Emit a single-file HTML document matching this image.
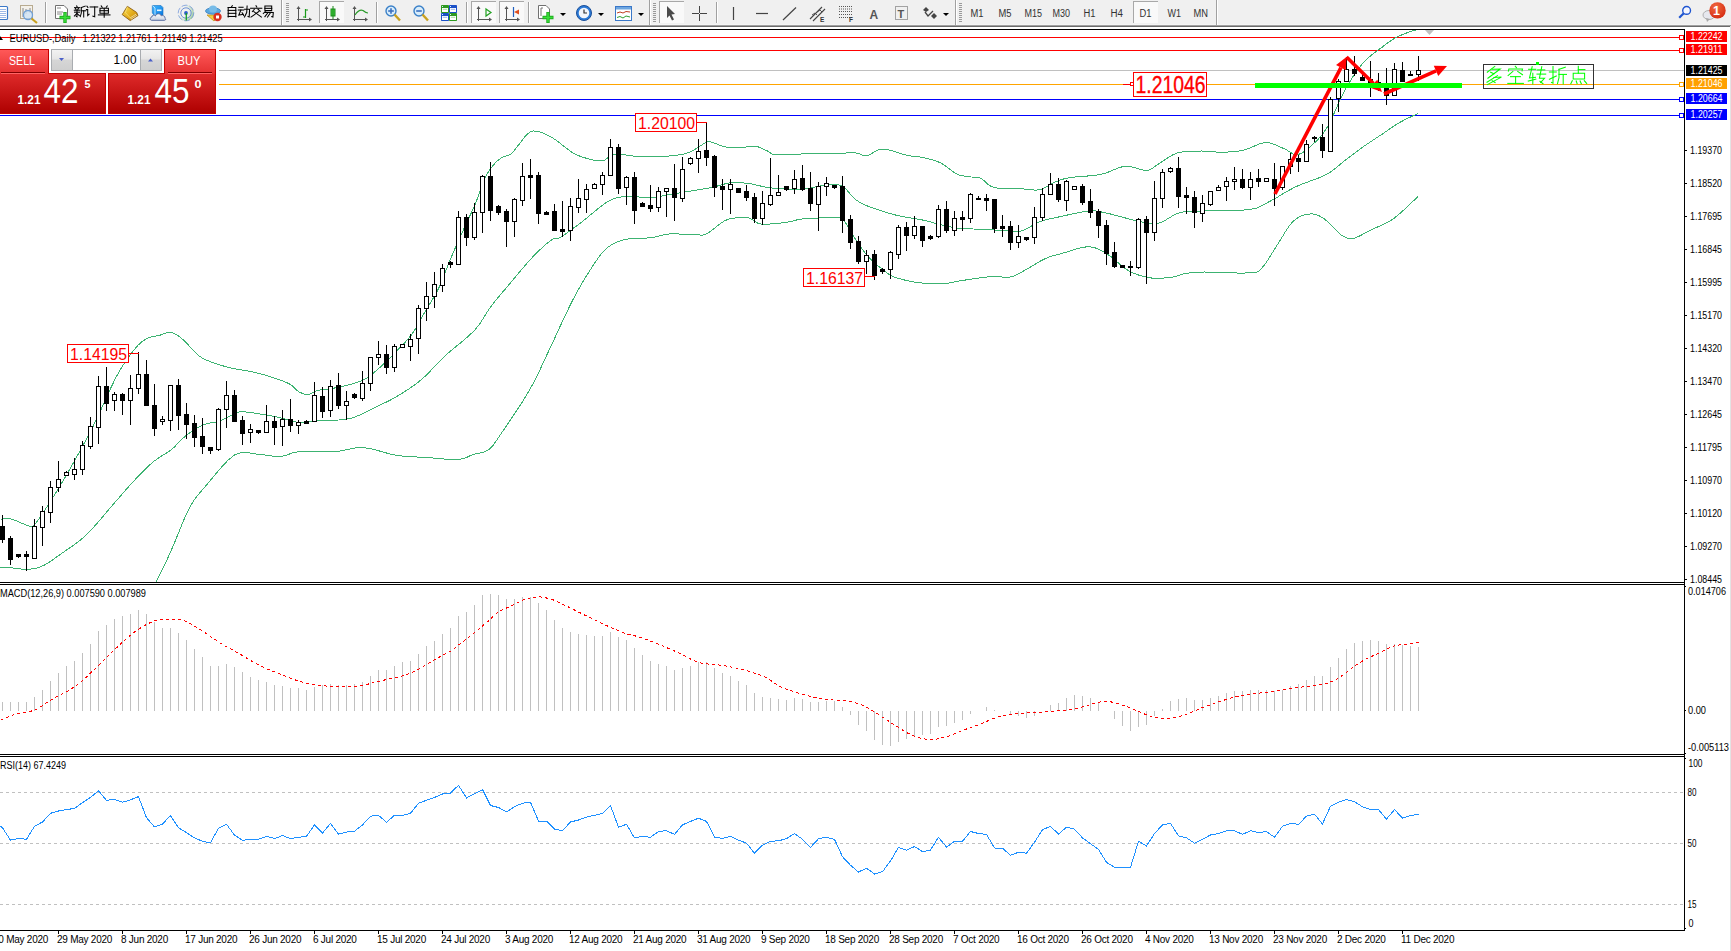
<!DOCTYPE html><html><head><meta charset="utf-8"><title>EURUSD Daily</title><style>html,body{margin:0;padding:0;background:#fff;overflow:hidden}body{width:1731px;height:951px;position:relative}svg{position:absolute;left:0;top:0;font-family:"Liberation Sans",sans-serif}</style></head><body>
<svg width="1731" height="951" viewBox="0 0 1731 951">
<g id="toolbar">
<rect x="0" y="0" width="1731" height="25" fill="#f0f0f0" shape-rendering="crispEdges"/>
<rect x="0" y="24" width="1731" height="1" fill="#f4f4f4" shape-rendering="crispEdges"/>
<rect x="0" y="25" width="1731" height="1" fill="#a0a0a0" shape-rendering="crispEdges"/>
<rect x="0" y="26" width="1731" height="1" fill="#6b6b6b" shape-rendering="crispEdges"/>
<rect x="-3.5" y="6.5" width="11" height="13" fill="#fff" stroke="#3a78c8" stroke-width="1.2" rx="1"/>
<rect x="0" y="9" width="6" height="1" fill="#9bb8e6" shape-rendering="crispEdges"/>
<rect x="0" y="11" width="6" height="1" fill="#9bb8e6" shape-rendering="crispEdges"/>
<rect x="0" y="13" width="6" height="1" fill="#9bb8e6" shape-rendering="crispEdges"/>
<rect x="0" y="15" width="6" height="1" fill="#9bb8e6" shape-rendering="crispEdges"/>
<rect x="0" y="17" width="6" height="1" fill="#9bb8e6" shape-rendering="crispEdges"/>
<rect x="20.5" y="5.5" width="12" height="13" fill="#f4f1ea" stroke="#b8ab90" stroke-width="1"/>
<path d="M23,8 V17 M26,9 V14 M30,8 V13" stroke="#888" stroke-width="1"/>
<circle cx="28" cy="15" r="4.5" fill="#cfe3f5" fill-opacity="0.8" stroke="#6f9fd6" stroke-width="1.3"/>
<path d="M31.5,18.5 L37,23" stroke="#c8a020" stroke-width="2.2"/>
<rect x="45" y="2" width="1" height="21" fill="#a0a0a0" shape-rendering="crispEdges"/>
<rect x="46" y="2" width="1" height="21" fill="#ffffff" shape-rendering="crispEdges"/>
<path d="M55.5,5.5 H64 L67.5,9 V18.5 H55.5 Z" fill="#fff" stroke="#707070" stroke-width="1"/>
<path d="M57,8 H61 M57,12 H63 M57,14 H62" stroke="#888" stroke-width="1"/>
<path d="M65,12 V23 M59.5,17.5 H70.5" stroke="#1faa1f" stroke-width="3.4"/>
<path d="M65,12.8 V22.2 M60.3,17.5 H69.7" stroke="#38e038" stroke-width="1.6"/>
<defs><linearGradient id="gbook" x1="0" y1="0" x2="1" y2="1"><stop offset="0" stop-color="#f8dc50"/><stop offset="0.6" stop-color="#e0a818"/><stop offset="1" stop-color="#b87810"/></linearGradient><linearGradient id="gcube" x1="0" y1="0" x2="1" y2="1"><stop offset="0" stop-color="#40b8ff"/><stop offset="1" stop-color="#0a78e0"/></linearGradient><linearGradient id="gcloud" x1="0" y1="0" x2="0" y2="1"><stop offset="0" stop-color="#ffffff"/><stop offset="1" stop-color="#c8d0e0"/></linearGradient><radialGradient id="gsig" cx="0.3" cy="0.4" r="0.8"><stop offset="0.3" stop-color="#ffffff" stop-opacity="0"/><stop offset="1" stop-color="#40a040" stop-opacity="0.75"/></radialGradient></defs>
<polygon points="127.3,6.3 136.6,12.4 138,15.6 130.2,20.6 122.2,14.6 123.5,12.5" fill="url(#gbook)" stroke="#8a5a10" stroke-width="0.9" stroke-linejoin="round"/>
<path d="M131,19.2 L137.2,15.2 M130.3,17.8 L136,14.2" stroke="#f4e4b0" stroke-width="0.8"/>
<path d="M127.3,6.6 L125.4,12.6 L131,18.6" stroke="#fff2a0" stroke-width="0.8" fill="none" opacity="0.7"/>
<polygon points="152.3,5.5 161,5.5 163,7.5 163,15 154,15 152.3,13" fill="url(#gcube)" stroke="#1a70c0" stroke-width="0.6"/>
<path d="M152.5,5.6 L155,8 V15" stroke="#d0ecff" stroke-width="0.9" fill="none"/>
<rect x="157" y="9.5" width="4.5" height="1.6" fill="#e8f6ff"/>
<path d="M151.6,20.3 C149.8,20.3 149.6,17.4 151.8,17 C151.8,15 154.6,14.6 155.4,16 C156.2,13.2 160.4,13 161.2,15.8 C163,15 165.6,16.4 164.8,18.2 C166.2,18.8 165.8,20.3 164.4,20.3 Z" fill="url(#gcloud)" stroke="#4a6098" stroke-width="0.9"/>
<circle cx="186" cy="13" r="7.8" fill="url(#gsig)"/>
<circle cx="186" cy="13" r="7.8" fill="none" stroke="#6890d8" stroke-width="0.9" stroke-dasharray="6,2" opacity="0.8"/>
<circle cx="186" cy="13" r="5.2" fill="none" stroke="#5a84d4" stroke-width="1" opacity="0.85"/>
<circle cx="186" cy="13" r="1.9" fill="#2a5ccc"/>
<path d="M186.3,13 V20.6" stroke="#18a028" stroke-width="1.3" fill="none"/>
<polygon points="207,15 220,15 214,21" fill="#f0d040" stroke="#c09020" stroke-width="0.8"/>
<ellipse cx="213" cy="11" rx="7.5" ry="3.2" fill="#5aa8e0" stroke="#3a80c0" stroke-width="0.8"/>
<ellipse cx="213" cy="9" rx="4" ry="3.5" fill="#78bce8"/>
<circle cx="217.5" cy="17" r="4.2" fill="#d83020"/>
<rect x="216" y="15.5" width="3" height="3" fill="#fff"/>
<rect x="281" y="0" width="1" height="25" fill="#a0a0a0" shape-rendering="crispEdges"/>
<rect x="282" y="0" width="1" height="25" fill="#ffffff" shape-rendering="crispEdges"/>
<rect x="286" y="3" width="3" height="1" fill="#9a9a9a" shape-rendering="crispEdges"/>
<rect x="286" y="5" width="3" height="1" fill="#9a9a9a" shape-rendering="crispEdges"/>
<rect x="286" y="7" width="3" height="1" fill="#9a9a9a" shape-rendering="crispEdges"/>
<rect x="286" y="9" width="3" height="1" fill="#9a9a9a" shape-rendering="crispEdges"/>
<rect x="286" y="11" width="3" height="1" fill="#9a9a9a" shape-rendering="crispEdges"/>
<rect x="286" y="13" width="3" height="1" fill="#9a9a9a" shape-rendering="crispEdges"/>
<rect x="286" y="15" width="3" height="1" fill="#9a9a9a" shape-rendering="crispEdges"/>
<rect x="286" y="17" width="3" height="1" fill="#9a9a9a" shape-rendering="crispEdges"/>
<rect x="286" y="19" width="3" height="1" fill="#9a9a9a" shape-rendering="crispEdges"/>
<rect x="286" y="21" width="3" height="1" fill="#9a9a9a" shape-rendering="crispEdges"/>
<path d="M298.5,7 V21 M297,19.5 H311" stroke="#555" stroke-width="1" fill="none" shape-rendering="crispEdges"/>
<polygon points="298.5,6 296.5,9 300.5,9" fill="#555"/>
<polygon points="312,19.5 309,17.5 309,21.5" fill="#555"/>
<path d="M305.5,9 V18 M305.5,10 H308 M303,17 H305.5" stroke="#1a9a1a" stroke-width="1.2" fill="none"/>
<rect x="319" y="1" width="25" height="22" fill="#f9f9f9" shape-rendering="crispEdges"/>
<rect x="319" y="1" width="25" height="1" fill="#a8a8a8" shape-rendering="crispEdges"/>
<rect x="319" y="1" width="1" height="22" fill="#a8a8a8" shape-rendering="crispEdges"/>
<path d="M326.5,7 V21 M325,19.5 H339" stroke="#555" stroke-width="1" fill="none" shape-rendering="crispEdges"/>
<polygon points="326.5,6 324.5,9 328.5,9" fill="#555"/>
<polygon points="340,19.5 337,17.5 337,21.5" fill="#555"/>
<rect x="331" y="9" width="4" height="7" fill="#40d040" stroke="#1a8a1a" stroke-width="1"/>
<path d="M333,6 V19" stroke="#1a8a1a" stroke-width="1"/>
<path d="M354.5,7 V21 M353,19.5 H367" stroke="#555" stroke-width="1" fill="none" shape-rendering="crispEdges"/>
<polygon points="354.5,6 352.5,9 356.5,9" fill="#555"/>
<polygon points="368,19.5 365,17.5 365,21.5" fill="#555"/>
<path d="M355,15 Q359,9 363,10.5 Q366,13 368,13" stroke="#2a9a2a" stroke-width="1.2" fill="none"/>
<rect x="376" y="2" width="1" height="21" fill="#a0a0a0" shape-rendering="crispEdges"/>
<rect x="377" y="2" width="1" height="21" fill="#ffffff" shape-rendering="crispEdges"/>
<circle cx="391" cy="11" r="5" fill="#d8ecfa" stroke="#3a80c8" stroke-width="1.4"/>
<path d="M394.5,14.5 L400,20.5" stroke="#c8a020" stroke-width="2.4"/>
<path d="M388.2,11 H393.8" stroke="#3a70c0" stroke-width="1.6"/>
<path d="M391,8.2 V13.8" stroke="#3a70c0" stroke-width="1.6"/>
<circle cx="419" cy="11" r="5" fill="#d8ecfa" stroke="#3a80c8" stroke-width="1.4"/>
<path d="M422.5,14.5 L428,20.5" stroke="#c8a020" stroke-width="2.4"/>
<path d="M416.2,11 H421.8" stroke="#3a70c0" stroke-width="1.6"/>
<rect x="441" y="5" width="8" height="8" rx="0.8" fill="#2e9a20"/>
<rect x="442" y="8" width="6" height="4" fill="#ffffff"/>
<rect x="442.8" y="8.8" width="4.4" height="0.9" fill="#9ad890"/>
<rect x="442" y="6" width="1" height="1" fill="#e0f0ff"/>
<rect x="449" y="5" width="8" height="8" rx="0.8" fill="#1a50c8"/>
<rect x="450" y="8" width="6" height="4" fill="#ffffff"/>
<rect x="450.8" y="8.8" width="4.4" height="0.9" fill="#8aa8e8"/>
<rect x="450" y="6" width="1" height="1" fill="#e0f0ff"/>
<rect x="441" y="13" width="8" height="8" rx="0.8" fill="#1a50c8"/>
<rect x="442" y="16" width="6" height="4" fill="#ffffff"/>
<rect x="442.8" y="16.8" width="4.4" height="0.9" fill="#8aa8e8"/>
<rect x="442" y="14" width="1" height="1" fill="#e0f0ff"/>
<rect x="449" y="13" width="8" height="8" rx="0.8" fill="#2e9a20"/>
<rect x="450" y="16" width="6" height="4" fill="#ffffff"/>
<rect x="450.8" y="16.8" width="4.4" height="0.9" fill="#9ad890"/>
<rect x="450" y="14" width="1" height="1" fill="#e0f0ff"/>
<rect x="466" y="2" width="1" height="21" fill="#a0a0a0" shape-rendering="crispEdges"/>
<rect x="467" y="2" width="1" height="21" fill="#ffffff" shape-rendering="crispEdges"/>
<rect x="471" y="1" width="25" height="22" fill="#f9f9f9" shape-rendering="crispEdges"/>
<rect x="471" y="1" width="25" height="1" fill="#a8a8a8" shape-rendering="crispEdges"/>
<rect x="471" y="1" width="1" height="22" fill="#a8a8a8" shape-rendering="crispEdges"/>
<path d="M478.5,7 V21 M477,19.5 H491" stroke="#555" stroke-width="1" fill="none" shape-rendering="crispEdges"/>
<polygon points="478.5,6 476.5,9 480.5,9" fill="#555"/>
<polygon points="492,19.5 489,17.5 489,21.5" fill="#555"/>
<polygon points="486,9 491,12.5 486,16" fill="none" stroke="#20a020" stroke-width="1.2"/>
<rect x="499" y="1" width="25" height="22" fill="#f9f9f9" shape-rendering="crispEdges"/>
<rect x="499" y="1" width="25" height="1" fill="#a8a8a8" shape-rendering="crispEdges"/>
<rect x="499" y="1" width="1" height="22" fill="#a8a8a8" shape-rendering="crispEdges"/>
<path d="M506.5,7 V21 M505,19.5 H519" stroke="#555" stroke-width="1" fill="none" shape-rendering="crispEdges"/>
<polygon points="506.5,6 504.5,9 508.5,9" fill="#555"/>
<polygon points="520,19.5 517,17.5 517,21.5" fill="#555"/>
<path d="M513.5,7 V17" stroke="#2060c0" stroke-width="1.2"/>
<polygon points="514,12 519,9.5 519,14.5" fill="#e05020"/>
<rect x="528" y="2" width="1" height="21" fill="#a0a0a0" shape-rendering="crispEdges"/>
<rect x="529" y="2" width="1" height="21" fill="#ffffff" shape-rendering="crispEdges"/>
<path d="M538.5,5.5 H546 L549.5,9 V18.5 H538.5 Z" fill="#fff" stroke="#707070" stroke-width="1"/>
<path d="M541,8 V16 M541,8 H543" stroke="#777" stroke-width="1"/>
<path d="M548,12 V23 M542.5,17.5 H553.5" stroke="#1faa1f" stroke-width="3.4"/>
<path d="M548,12.8 V22.2 M543.3,17.5 H552.7" stroke="#38e038" stroke-width="1.6"/>
<polygon points="560,13 566,13 563,16" fill="#000"/>
<circle cx="584" cy="13" r="7.5" fill="#2c7ad6" stroke="#1a4f9a" stroke-width="1"/>
<circle cx="584" cy="13" r="5.3" fill="#f2f6fb"/>
<path d="M584,9.5 V13 H587" stroke="#333" stroke-width="1.2" fill="none"/>
<polygon points="598,13 604,13 601,16" fill="#000"/>
<rect x="615.5" y="6.5" width="16" height="14" fill="#fff" stroke="#3a78c8" stroke-width="1"/>
<rect x="616" y="7" width="15" height="2.5" fill="#6ea6e0"/>
<path d="M617,13 L620,12 L623,13 L626,11.5 L630,12" stroke="#c04020" stroke-width="1" fill="none"/>
<path d="M617,17.5 L620,16.5 L623,18 L626,16 L630,17" stroke="#30a030" stroke-width="1" fill="none"/>
<polygon points="638,13 644,13 641,16" fill="#000"/>
<rect x="649" y="0" width="1" height="25" fill="#a0a0a0" shape-rendering="crispEdges"/>
<rect x="650" y="0" width="1" height="25" fill="#ffffff" shape-rendering="crispEdges"/>
<rect x="653" y="3" width="3" height="1" fill="#9a9a9a" shape-rendering="crispEdges"/>
<rect x="653" y="5" width="3" height="1" fill="#9a9a9a" shape-rendering="crispEdges"/>
<rect x="653" y="7" width="3" height="1" fill="#9a9a9a" shape-rendering="crispEdges"/>
<rect x="653" y="9" width="3" height="1" fill="#9a9a9a" shape-rendering="crispEdges"/>
<rect x="653" y="11" width="3" height="1" fill="#9a9a9a" shape-rendering="crispEdges"/>
<rect x="653" y="13" width="3" height="1" fill="#9a9a9a" shape-rendering="crispEdges"/>
<rect x="653" y="15" width="3" height="1" fill="#9a9a9a" shape-rendering="crispEdges"/>
<rect x="653" y="17" width="3" height="1" fill="#9a9a9a" shape-rendering="crispEdges"/>
<rect x="653" y="19" width="3" height="1" fill="#9a9a9a" shape-rendering="crispEdges"/>
<rect x="653" y="21" width="3" height="1" fill="#9a9a9a" shape-rendering="crispEdges"/>
<rect x="659" y="1" width="25" height="22" fill="#f9f9f9" shape-rendering="crispEdges"/>
<rect x="659" y="1" width="25" height="1" fill="#a8a8a8" shape-rendering="crispEdges"/>
<rect x="659" y="1" width="1" height="22" fill="#a8a8a8" shape-rendering="crispEdges"/>
<polygon points="667,6 675,14 671.5,14.5 674,19.5 672,20.5 669.5,15.5 667,18" fill="#4a4a4a"/>
<path d="M699.5,6 V21 M692,13.5 H707" stroke="#444" stroke-width="1" shape-rendering="crispEdges"/>
<rect x="699" y="13" width="1" height="1" fill="#f0f0f0"/>
<rect x="716" y="2" width="1" height="21" fill="#a0a0a0" shape-rendering="crispEdges"/>
<rect x="717" y="2" width="1" height="21" fill="#ffffff" shape-rendering="crispEdges"/>
<path d="M733.5,7 V20" stroke="#444" stroke-width="1.2"/>
<path d="M756,13.5 H768" stroke="#444" stroke-width="1.2"/>
<path d="M783,20 L796,7.5" stroke="#444" stroke-width="1.2"/>
<path d="M810,19 L822,7 M813,21 L825,9" stroke="#444" stroke-width="1.1"/>
<path d="M812,15 l3,-2 M815,13 l2,2 M817,12 l3,-2 M820,10 l2,2" stroke="#444" stroke-width="0.9"/>
<text x="820" y="22" font-size="6.5" font-weight="bold" fill="#333">E</text>
<path d="M839,6.5 H852" stroke="#444" stroke-width="0.9" stroke-dasharray="1,1"/>
<path d="M839,9 H852" stroke="#444" stroke-width="0.9" stroke-dasharray="1,1"/>
<path d="M839,11.5 H852" stroke="#444" stroke-width="0.9" stroke-dasharray="1,1"/>
<path d="M839,14.5 H852" stroke="#444" stroke-width="0.9" stroke-dasharray="1,1"/>
<path d="M839,17.5 H852" stroke="#444" stroke-width="0.9" stroke-dasharray="1,1"/>
<text x="849" y="22" font-size="6.5" font-weight="bold" fill="#333">F</text>
<text x="869.5" y="18.5" font-size="12" font-weight="bold" fill="#555">A</text>
<rect x="895.5" y="6.5" width="12" height="13" fill="none" stroke="#555" stroke-width="1" stroke-dasharray="1,1"/>
<text x="897.5" y="18" font-size="11" font-weight="bold" fill="#555">T</text>
<polygon points="923,10 926,7 929,10 926,12" fill="#444"/>
<path d="M925,12 L928,16 L933,11" stroke="#444" stroke-width="1.3" fill="none"/>
<polygon points="931,16 934,13 937,16 934,19" fill="#444"/>
<polygon points="943,13 949,13 946,16" fill="#000"/>
<rect x="955" y="0" width="1" height="25" fill="#a0a0a0" shape-rendering="crispEdges"/>
<rect x="956" y="0" width="1" height="25" fill="#ffffff" shape-rendering="crispEdges"/>
<rect x="959" y="3" width="3" height="1" fill="#9a9a9a" shape-rendering="crispEdges"/>
<rect x="959" y="5" width="3" height="1" fill="#9a9a9a" shape-rendering="crispEdges"/>
<rect x="959" y="7" width="3" height="1" fill="#9a9a9a" shape-rendering="crispEdges"/>
<rect x="959" y="9" width="3" height="1" fill="#9a9a9a" shape-rendering="crispEdges"/>
<rect x="959" y="11" width="3" height="1" fill="#9a9a9a" shape-rendering="crispEdges"/>
<rect x="959" y="13" width="3" height="1" fill="#9a9a9a" shape-rendering="crispEdges"/>
<rect x="959" y="15" width="3" height="1" fill="#9a9a9a" shape-rendering="crispEdges"/>
<rect x="959" y="17" width="3" height="1" fill="#9a9a9a" shape-rendering="crispEdges"/>
<rect x="959" y="19" width="3" height="1" fill="#9a9a9a" shape-rendering="crispEdges"/>
<rect x="959" y="21" width="3" height="1" fill="#9a9a9a" shape-rendering="crispEdges"/>
<text x="970.5" y="17.3" font-size="10" fill="#333" textLength="13" lengthAdjust="spacingAndGlyphs">M1</text>
<text x="998.5" y="17.3" font-size="10" fill="#333" textLength="13" lengthAdjust="spacingAndGlyphs">M5</text>
<text x="1024.5" y="17.3" font-size="10" fill="#333" textLength="17.5" lengthAdjust="spacingAndGlyphs">M15</text>
<text x="1052.5" y="17.3" font-size="10" fill="#333" textLength="17.5" lengthAdjust="spacingAndGlyphs">M30</text>
<text x="1083.5" y="17.3" font-size="10" fill="#333" textLength="12" lengthAdjust="spacingAndGlyphs">H1</text>
<text x="1110.5" y="17.3" font-size="10" fill="#333" textLength="12.5" lengthAdjust="spacingAndGlyphs">H4</text>
<rect x="1133" y="1" width="25" height="22" fill="#f9f9f9" shape-rendering="crispEdges"/>
<rect x="1133" y="1" width="25" height="1" fill="#a8a8a8" shape-rendering="crispEdges"/>
<rect x="1133" y="1" width="1" height="22" fill="#a8a8a8" shape-rendering="crispEdges"/>
<text x="1139.5" y="17.3" font-size="10" fill="#333" textLength="12" lengthAdjust="spacingAndGlyphs">D1</text>
<text x="1167.5" y="17.3" font-size="10" fill="#333" textLength="13.5" lengthAdjust="spacingAndGlyphs">W1</text>
<text x="1193.5" y="17.3" font-size="10" fill="#333" textLength="14.5" lengthAdjust="spacingAndGlyphs">MN</text>
<rect x="1216" y="0" width="1" height="25" fill="#a0a0a0" shape-rendering="crispEdges"/>
<rect x="1217" y="0" width="1" height="25" fill="#ffffff" shape-rendering="crispEdges"/>
<circle cx="1686.6" cy="10.4" r="3.9" fill="#f4f6ff" stroke="#1f55d0" stroke-width="1.4"/>
<path d="M1683.8,13.3 L1679.2,17.8" stroke="#1f55d0" stroke-width="2.2"/>
<ellipse cx="1709" cy="15" rx="6" ry="4.5" fill="#e6e8ee" stroke="#a8a8a8" stroke-width="0.9"/>
<polygon points="1706,18 1707,22 1710,19" fill="#a8a8a8"/>
<defs><radialGradient id="gbadge" cx="0.4" cy="0.3" r="0.75"><stop offset="0" stop-color="#f26a40"/><stop offset="1" stop-color="#d42a10"/></radialGradient></defs>
<circle cx="1717.5" cy="10.4" r="8.2" fill="url(#gbadge)"/>
<text x="1716.6" y="15.2" font-size="12.5" font-weight="bold" fill="#fff" text-anchor="middle">1</text>
</g>
<g shape-rendering="crispEdges">
<rect x="0" y="27" width="1731" height="924" fill="#fff"/>
<rect x="1730" y="26" width="1" height="925" fill="#e3e3e3"/>
<rect x="0" y="29" width="1685" height="1" fill="#000"/>
<rect x="1684" y="29" width="1" height="902" fill="#000"/>
<rect x="0" y="582" width="1685" height="1" fill="#000"/>
<rect x="0" y="584" width="1685" height="1" fill="#000"/>
<rect x="0" y="754" width="1685" height="1" fill="#000"/>
<rect x="0" y="756" width="1685" height="1" fill="#000"/>
<rect x="0" y="930" width="1685" height="1" fill="#000"/>
</g>
<g shape-rendering="crispEdges">
<rect x="1685" y="150" width="2" height="1" fill="#000"/>
<rect x="1685" y="183" width="2" height="1" fill="#000"/>
<rect x="1685" y="216" width="2" height="1" fill="#000"/>
<rect x="1685" y="249" width="2" height="1" fill="#000"/>
<rect x="1685" y="282" width="2" height="1" fill="#000"/>
<rect x="1685" y="315" width="2" height="1" fill="#000"/>
<rect x="1685" y="348" width="2" height="1" fill="#000"/>
<rect x="1685" y="381" width="2" height="1" fill="#000"/>
<rect x="1685" y="414" width="2" height="1" fill="#000"/>
<rect x="1685" y="447" width="2" height="1" fill="#000"/>
<rect x="1685" y="480" width="2" height="1" fill="#000"/>
<rect x="1685" y="513" width="2" height="1" fill="#000"/>
<rect x="1685" y="546" width="2" height="1" fill="#000"/>
<rect x="1685" y="579" width="2" height="1" fill="#000"/>
</g>
<text x="1690" y="154" font-size="10" fill="#000" textLength="32" lengthAdjust="spacingAndGlyphs" >1.19370</text>
<text x="1690" y="187" font-size="10" fill="#000" textLength="32" lengthAdjust="spacingAndGlyphs" >1.18520</text>
<text x="1690" y="220" font-size="10" fill="#000" textLength="32" lengthAdjust="spacingAndGlyphs" >1.17695</text>
<text x="1690" y="253" font-size="10" fill="#000" textLength="32" lengthAdjust="spacingAndGlyphs" >1.16845</text>
<text x="1690" y="286" font-size="10" fill="#000" textLength="32" lengthAdjust="spacingAndGlyphs" >1.15995</text>
<text x="1690" y="319" font-size="10" fill="#000" textLength="32" lengthAdjust="spacingAndGlyphs" >1.15170</text>
<text x="1690" y="352" font-size="10" fill="#000" textLength="32" lengthAdjust="spacingAndGlyphs" >1.14320</text>
<text x="1690" y="385" font-size="10" fill="#000" textLength="32" lengthAdjust="spacingAndGlyphs" >1.13470</text>
<text x="1690" y="418" font-size="10" fill="#000" textLength="32" lengthAdjust="spacingAndGlyphs" >1.12645</text>
<text x="1690" y="451" font-size="10" fill="#000" textLength="32" lengthAdjust="spacingAndGlyphs" >1.11795</text>
<text x="1690" y="484" font-size="10" fill="#000" textLength="32" lengthAdjust="spacingAndGlyphs" >1.10970</text>
<text x="1690" y="517" font-size="10" fill="#000" textLength="32" lengthAdjust="spacingAndGlyphs" >1.10120</text>
<text x="1690" y="550" font-size="10" fill="#000" textLength="32" lengthAdjust="spacingAndGlyphs" >1.09270</text>
<text x="1690" y="583" font-size="10" fill="#000" textLength="32" lengthAdjust="spacingAndGlyphs" >1.08445</text>
<g shape-rendering="crispEdges">
<rect x="0" y="37" width="1684" height="1" fill="#f00"/>
<rect x="0" y="50" width="1684" height="1" fill="#f00"/>
<rect x="0" y="70" width="1684" height="1" fill="#c0c0c0"/>
<rect x="0" y="84" width="1684" height="1" fill="#ffa500"/>
<rect x="0" y="99" width="1684" height="1" fill="#00f"/>
<rect x="0" y="115" width="1684" height="1" fill="#00f"/>
<rect x="1679.5" y="35.5" width="4" height="4" fill="#fff" stroke="#f00" stroke-width="1"/>
<rect x="1679.5" y="48.5" width="4" height="4" fill="#fff" stroke="#f00" stroke-width="1"/>
<rect x="1679.5" y="82.5" width="4" height="4" fill="#fff" stroke="#ffa500" stroke-width="1"/>
<rect x="1679.5" y="97.5" width="4" height="4" fill="#fff" stroke="#00f" stroke-width="1"/>
<rect x="1679.5" y="113.5" width="4" height="4" fill="#fff" stroke="#00f" stroke-width="1"/>
<rect x="1686" y="31" width="41" height="11" fill="#f00"/>
<rect x="1686" y="44" width="41" height="11" fill="#f00"/>
<rect x="1686" y="65" width="41" height="11" fill="#000"/>
<rect x="1686" y="78" width="41" height="11" fill="#ffa000"/>
<rect x="1686" y="93" width="41" height="11" fill="#00f"/>
<rect x="1686" y="109" width="41" height="11" fill="#00f"/>
</g>
<text x="1690.5" y="40" font-size="10" fill="#fff" textLength="32" lengthAdjust="spacingAndGlyphs" >1.22242</text>
<text x="1690.5" y="53" font-size="10" fill="#fff" textLength="32" lengthAdjust="spacingAndGlyphs" >1.21911</text>
<text x="1690.5" y="74" font-size="10" fill="#fff" textLength="32" lengthAdjust="spacingAndGlyphs" >1.21425</text>
<text x="1690.5" y="87" font-size="10" fill="#fff" textLength="32" lengthAdjust="spacingAndGlyphs" >1.21046</text>
<text x="1690.5" y="102" font-size="10" fill="#fff" textLength="32" lengthAdjust="spacingAndGlyphs" >1.20664</text>
<text x="1690.5" y="118" font-size="10" fill="#fff" textLength="32" lengthAdjust="spacingAndGlyphs" >1.20257</text>
<g clip-path="url(#mainclip)">
<defs><clipPath id="mainclip"><rect x="0" y="30" width="1684" height="552"/></clipPath><clipPath id="macdclip"><rect x="0" y="585" width="1684" height="169"/></clipPath><clipPath id="rsiclip"><rect x="0" y="757" width="1684" height="173"/></clipPath></defs>
<polyline points="0.5,519.4 2.0,519.1 4.1,518.6 6.7,518.3 9.6,518.5 13.2,519.6 17.4,521.3 21.6,523.1 24.9,524.5 27.1,525.4 28.5,526.0 29.7,526.2 31.0,526.1 32.1,526.2 32.9,526.3 34.3,525.1 37.1,521.5 41.8,514.7 47.8,505.6 54.5,495.0 61.5,483.5 68.8,470.9 76.7,456.9 84.7,442.4 92.0,428.5 98.7,414.7 105.0,400.8 110.9,387.7 116.4,376.5 121.5,367.6 126.2,360.3 130.5,354.4 134.5,349.3 138.0,345.3 141.0,342.4 143.9,340.3 146.8,338.5 149.9,337.2 152.9,336.5 156.0,336.1 159.0,335.5 162.0,334.5 165.1,333.3 168.1,332.5 171.2,332.5 174.2,333.5 177.2,335.1 180.2,337.4 183.5,340.1 187.1,343.6 190.8,347.8 194.7,352.0 198.5,355.5 202.3,358.0 206.0,359.9 209.8,361.5 213.9,363.0 218.2,364.5 222.7,365.8 227.3,367.0 232.2,368.2 237.3,369.2 242.7,370.1 248.1,371.0 253.5,372.1 259.0,373.5 264.6,375.0 270.0,376.6 274.9,378.2 279.3,379.7 283.3,381.1 286.9,382.7 290.1,384.3 292.8,386.2 295.1,388.4 297.1,390.4 299.3,392.0 301.6,393.1 303.9,393.9 306.1,394.4 308.4,394.4 310.6,393.8 312.8,392.7 315.0,391.5 317.5,390.5 320.1,390.0 322.9,389.7 326.0,389.5 329.8,388.9 334.6,388.0 340.3,386.9 346.0,385.6 351.1,384.3 355.4,383.0 359.1,381.7 362.7,380.2 366.4,378.2 370.2,375.6 373.9,372.7 377.7,369.4 381.5,366.0 385.3,362.4 389.1,358.7 393.0,354.8 396.8,350.8 400.7,346.8 404.6,342.9 408.4,338.6 412.1,334.0 415.5,328.8 418.7,323.1 421.9,317.3 425.1,311.5 428.5,305.9 431.9,300.3 435.3,294.7 438.4,288.8 441.2,282.5 443.9,275.8 446.4,269.3 448.8,263.2 451.0,257.8 453.1,252.9 455.1,248.2 457.3,243.3 459.6,238.2 462.0,233.0 464.4,227.7 466.8,222.5 469.2,217.3 471.7,212.0 474.1,206.7 476.3,201.5 478.3,196.1 480.2,190.7 482.0,185.4 483.8,180.8 485.6,176.9 487.5,173.4 489.4,170.4 491.4,167.5 493.6,164.8 496.0,162.2 498.4,160.0 500.9,158.1 503.4,156.9 505.9,156.1 508.5,155.3 511.0,153.9 513.4,151.5 515.8,148.6 518.2,145.4 520.5,142.5 522.7,139.7 524.9,136.8 527.1,134.3 529.3,132.5 531.4,131.4 533.5,131.0 535.8,131.1 538.5,131.6 541.8,132.6 545.5,134.2 549.5,136.2 553.7,138.6 558.1,141.7 562.9,145.5 567.6,149.2 572.0,152.3 576.0,154.5 579.8,156.1 583.5,157.4 587.2,158.5 591.2,159.6 595.2,160.4 599.1,160.9 602.5,160.9 605.1,160.0 607.2,158.3 609.2,156.6 611.5,155.4 614.2,154.8 617.1,154.6 620.2,154.6 623.8,154.8 627.7,155.2 632.0,155.9 636.7,156.5 642.1,156.9 648.5,156.9 655.8,156.8 663.1,156.5 669.5,156.0 674.9,155.5 679.6,154.8 683.9,154.0 687.8,152.9 691.3,151.4 694.5,149.6 697.3,147.8 700.0,146.2 702.4,144.7 704.4,143.2 706.5,142.1 709.2,141.7 712.6,142.4 716.4,143.9 720.5,145.6 724.4,146.8 728.2,147.4 731.9,147.7 735.7,147.8 739.5,147.8 743.4,147.4 747.4,146.8 751.3,146.2 754.9,146.2 758.2,146.9 761.4,148.1 764.3,149.5 767.1,150.8 769.2,152.0 770.7,153.1 772.7,154.2 776.2,154.8 781.9,154.9 789.1,154.6 796.7,154.2 803.5,153.9 809.1,153.9 814.0,153.9 819.1,153.9 825.0,153.9 832.5,153.6 840.9,153.2 849.1,152.9 855.5,152.9 859.5,153.6 861.9,154.8 863.8,155.8 866.2,156.0 869.4,154.8 873.0,152.8 876.5,150.6 879.9,149.3 883.0,149.0 885.9,149.3 888.9,150.0 892.1,150.8 895.7,151.8 899.5,153.1 903.4,154.4 907.3,155.4 911.0,156.0 914.7,156.4 918.5,156.8 922.5,157.5 927.0,158.5 931.7,159.7 936.5,161.2 940.9,163.0 945.0,165.5 948.9,168.5 952.6,171.4 956.1,173.7 959.4,175.0 962.4,175.8 965.3,176.2 968.3,176.7 971.3,177.0 974.3,177.1 977.4,177.3 980.5,178.2 983.5,180.2 986.3,182.9 989.6,185.6 994.0,187.5 1000.1,188.4 1007.4,188.7 1014.9,188.7 1021.5,188.8 1026.8,189.3 1031.4,189.8 1035.7,190.1 1039.8,189.7 1043.8,188.3 1047.6,186.2 1051.3,184.0 1055.0,182.1 1058.5,180.7 1061.7,179.5 1065.4,178.5 1070.3,177.5 1077.0,176.8 1084.9,176.2 1093.2,175.6 1100.7,174.5 1107.3,172.5 1113.5,169.9 1119.4,167.5 1125.1,166.2 1130.9,166.6 1136.6,168.2 1141.9,169.9 1146.5,170.5 1150.1,169.7 1152.8,168.1 1155.4,166.0 1158.7,163.8 1162.7,161.2 1167.1,158.2 1171.9,155.3 1177.0,153.1 1182.7,151.9 1189.0,151.3 1195.4,151.1 1201.4,151.0 1206.9,151.1 1212.2,151.6 1217.4,152.1 1222.7,152.2 1228.0,152.0 1233.3,151.7 1238.7,151.1 1244.0,150.1 1249.4,148.3 1254.9,145.8 1260.3,143.6 1265.4,142.5 1270.3,143.0 1275.1,144.6 1279.6,146.7 1283.7,148.5 1287.2,150.3 1290.2,152.3 1293.0,153.9 1295.9,154.6 1298.8,154.3 1301.6,153.2 1304.6,151.3 1308.1,148.5 1312.2,144.9 1316.9,140.6 1321.7,135.3 1326.4,128.7 1331.0,120.2 1335.5,110.1 1340.0,99.8 1344.6,90.6 1349.2,82.7 1353.7,75.5 1358.3,68.9 1362.9,63.2 1367.5,58.4 1372.2,54.5 1376.8,51.1 1381.2,47.9 1385.2,44.8 1389.0,42.0 1392.8,39.5 1396.5,37.3 1400.5,35.4 1404.7,33.7 1408.5,32.3 1411.7,31.2 1414.0,30.4 1415.7,30.0 1416.9,29.8 1417.8,29.6" fill="none" stroke="#3cb371" stroke-width="1" shape-rendering="crispEdges"/>
<polyline points="0.5,567.3 3.3,567.5 7.3,567.7 11.8,567.9 15.7,568.2 18.9,568.6 21.8,569.1 24.7,569.4 27.9,569.4 31.4,569.0 35.2,568.4 39.1,567.3 43.2,565.7 47.4,563.4 51.8,560.5 56.4,557.2 61.5,553.5 67.2,549.6 73.3,545.4 79.7,540.6 85.9,535.3 92.1,529.0 98.3,521.9 104.4,514.7 110.3,507.8 115.8,501.4 121.1,495.3 126.3,489.3 131.5,483.5 136.9,477.7 142.4,472.0 147.8,466.7 152.9,462.1 157.8,458.4 162.6,455.4 167.1,452.7 171.2,449.9 174.6,446.8 177.4,443.8 180.2,440.7 183.5,437.7 187.6,434.5 192.2,431.1 197.0,428.0 201.7,425.5 206.4,423.9 211.2,422.8 215.9,422.0 220.0,420.9 223.5,419.4 226.7,417.7 229.5,416.1 232.2,414.8 234.5,413.7 236.4,412.8 238.5,412.1 241.4,411.8 245.2,411.9 249.7,412.4 254.5,413.1 259.5,413.9 264.7,414.8 270.2,415.7 275.8,416.8 281.0,417.9 285.8,419.2 290.4,420.5 294.8,421.8 299.3,422.5 303.6,422.5 307.8,422.1 312.3,421.4 317.5,420.9 324.0,420.6 331.4,420.3 338.8,420.0 345.0,419.4 349.6,418.6 353.2,417.6 356.6,416.3 360.3,414.8 364.6,412.8 369.2,410.5 373.9,408.1 378.5,405.7 382.9,403.6 387.3,401.6 391.8,399.3 396.8,396.5 402.5,393.0 408.6,389.1 415.0,384.7 421.2,379.8 427.2,374.3 433.1,368.1 439.1,361.7 445.5,355.4 452.7,349.2 460.4,343.0 467.9,336.7 474.4,330.5 479.4,324.3 483.5,318.0 487.3,311.8 491.4,305.8 495.9,300.1 500.5,294.6 505.3,289.0 510.3,283.1 515.8,276.5 521.7,269.4 527.6,262.6 533.1,256.5 538.4,251.2 543.5,246.4 548.1,242.5 552.0,239.5 554.4,238.3 555.8,238.5 557.2,238.7 559.8,237.7 564.0,235.0 569.2,231.3 575.0,227.0 581.1,222.5 587.7,217.2 595.0,211.1 602.1,205.4 608.5,201.1 613.6,198.6 617.8,197.4 622.0,196.9 626.8,196.5 632.5,196.5 638.6,197.0 645.0,197.5 651.2,197.5 657.4,196.8 663.7,195.8 669.8,194.5 675.5,193.5 680.5,192.7 685.1,191.9 689.4,191.2 693.9,190.5 698.5,189.8 703.1,189.0 707.6,188.3 712.2,187.4 716.8,186.2 721.4,184.9 725.9,183.6 730.5,182.8 735.1,182.5 739.6,182.6 744.2,183.0 748.8,183.5 753.4,184.3 757.9,185.4 762.5,186.5 767.1,187.4 771.7,188.0 776.3,188.4 780.8,188.7 785.4,188.9 789.9,189.1 794.2,189.2 798.7,189.2 803.5,188.9 808.7,188.2 814.3,187.1 819.9,186.0 825.0,185.3 829.6,184.8 833.9,184.5 837.9,184.7 841.8,185.9 845.4,188.5 848.8,192.3 852.0,196.2 855.5,199.5 858.9,201.8 862.2,203.7 866.0,205.4 870.7,207.2 876.8,209.4 883.9,211.7 891.3,213.9 898.2,215.7 904.6,217.0 910.7,218.0 916.7,218.9 922.5,220.0 928.1,221.3 933.6,222.8 938.8,224.3 943.9,225.5 948.6,226.5 953.0,227.3 957.4,228.0 962.2,228.5 967.6,228.8 973.4,229.0 979.2,229.1 984.9,229.3 990.5,229.7 996.0,230.2 1001.3,230.6 1006.2,230.9 1010.4,231.2 1014.0,231.6 1017.6,231.6 1021.5,230.9 1025.9,229.1 1030.5,226.6 1035.2,223.9 1039.8,221.7 1044.1,220.3 1048.2,219.2 1052.7,218.2 1058.1,217.1 1065.2,215.5 1073.5,213.7 1081.7,212.0 1088.5,211.0 1093.3,210.8 1096.9,211.1 1100.1,211.7 1103.8,212.5 1108.2,213.4 1112.8,214.6 1117.5,215.9 1122.1,217.1 1126.7,218.3 1131.2,219.6 1135.8,220.8 1140.4,221.7 1144.9,222.6 1149.4,223.4 1153.9,223.8 1158.7,223.2 1163.7,221.2 1169.0,218.0 1174.4,214.8 1180.0,212.5 1185.4,211.5 1190.7,211.2 1196.7,211.2 1204.4,211.0 1214.9,210.8 1227.4,210.7 1239.9,210.4 1250.1,209.5 1257.1,207.9 1262.1,205.7 1266.5,203.2 1271.5,200.4 1277.2,197.3 1283.1,193.7 1289.3,190.1 1295.9,186.7 1303.4,183.6 1311.5,180.6 1319.5,177.6 1326.4,174.5 1331.8,171.2 1336.3,167.7 1340.3,164.2 1344.6,160.7 1349.2,157.2 1353.7,153.8 1358.3,150.3 1362.9,147.0 1367.5,143.8 1372.1,140.8 1376.6,137.8 1381.2,134.8 1385.8,131.7 1390.3,128.5 1394.9,125.4 1399.5,122.6 1404.5,119.9 1409.8,117.3 1414.5,115.1 1417.8,113.5" fill="none" stroke="#3cb371" stroke-width="1" shape-rendering="crispEdges"/>
<polyline points="154.0,587.5 154.1,587.2 154.0,587.0 154.5,585.8 156.0,582.5 158.8,576.6 162.6,568.9 166.9,559.9 171.2,550.5 175.6,540.1 180.2,528.7 184.9,517.4 189.5,507.8 193.9,500.5 198.1,494.8 202.6,489.5 207.8,483.5 214.1,475.9 221.2,467.5 228.4,459.8 235.3,454.5 241.6,452.4 247.8,452.6 253.7,453.7 259.5,454.5 265.1,455.0 270.6,455.8 275.9,456.4 281.0,456.5 285.4,455.6 289.2,454.1 293.5,452.6 299.3,451.5 307.4,451.2 317.0,451.4 327.0,451.7 335.9,451.5 343.3,450.5 349.8,449.0 356.2,447.8 363.3,447.5 371.3,448.8 379.9,451.1 388.5,453.6 396.8,455.4 404.6,456.3 412.2,456.8 419.7,457.1 427.3,457.5 435.3,458.2 443.5,459.0 451.2,459.6 457.8,459.6 462.7,458.8 466.4,457.5 469.6,455.9 473.1,454.5 477.0,453.6 480.9,452.8 484.7,451.8 488.3,449.9 491.2,447.5 493.6,444.7 496.4,440.6 500.5,434.5 506.8,425.3 514.5,413.9 522.5,401.7 529.3,390.5 534.4,381.1 538.7,372.5 542.8,363.6 547.5,353.5 553.3,341.2 559.6,327.5 566.0,313.8 572.0,301.5 577.7,290.9 583.2,281.2 588.5,272.6 593.3,265.1 597.5,259.0 601.1,254.2 604.6,250.2 608.5,246.8 612.7,244.0 617.1,241.9 621.7,240.4 626.8,239.2 632.6,238.4 639.0,238.2 645.4,238.1 651.2,237.7 656.1,236.8 660.4,235.7 664.6,234.7 669.5,234.0 675.5,233.9 682.1,234.1 688.5,234.3 693.9,234.5 697.7,234.7 700.4,235.1 702.9,235.0 706.1,234.0 710.4,231.4 715.3,227.6 720.1,223.8 724.4,220.9 727.9,219.4 730.8,218.6 733.6,218.2 736.5,217.9 739.6,217.5 742.6,217.3 745.7,217.4 748.8,217.9 751.6,219.2 754.1,221.0 757.1,222.9 761.0,224.0 766.4,224.2 772.8,223.9 779.5,223.2 785.4,222.5 790.1,221.7 794.1,220.6 798.2,219.6 803.5,218.8 810.8,218.3 819.4,218.0 827.7,217.8 834.2,217.9 837.9,217.8 839.9,217.7 841.3,218.2 843.3,220.0 846.1,223.7 849.2,228.7 852.4,234.2 855.5,239.2 858.5,243.6 861.4,247.9 864.4,252.1 867.7,256.0 871.4,259.8 875.3,263.4 879.2,266.8 882.9,269.7 885.9,272.1 888.4,274.0 891.3,275.7 895.1,277.3 900.3,278.9 906.5,280.5 913.1,281.8 919.5,282.8 925.7,283.4 932.1,283.7 938.2,283.7 943.9,283.5 948.7,283.0 952.8,282.3 957.0,281.4 962.2,280.5 968.9,279.5 976.5,278.3 984.2,277.3 991.0,276.6 996.7,276.6 1001.7,277.0 1006.2,277.3 1010.5,277.0 1014.2,276.0 1017.4,274.5 1020.6,272.7 1024.5,270.5 1029.4,267.7 1034.9,264.3 1040.6,261.0 1045.9,258.3 1050.6,256.5 1054.9,255.2 1059.3,254.1 1064.2,252.8 1070.0,251.0 1076.3,249.0 1082.7,247.3 1088.5,246.7 1093.4,247.3 1097.8,248.8 1102.1,251.0 1106.8,253.7 1112.0,257.4 1117.4,262.1 1122.9,266.8 1128.2,270.5 1133.4,273.1 1138.5,275.0 1143.4,276.3 1148.0,277.4 1152.1,278.1 1155.9,278.3 1159.3,278.2 1162.7,278.1 1165.9,277.9 1168.9,277.6 1171.7,277.2 1174.5,276.7 1177.0,276.0 1179.2,275.2 1181.6,274.4 1184.8,273.7 1188.4,273.1 1192.4,272.6 1197.4,272.2 1204.4,272.0 1214.8,272.2 1227.7,272.7 1240.4,273.1 1250.1,272.9 1255.4,272.4 1258.1,271.7 1259.8,270.2 1262.3,267.5 1265.9,263.0 1269.7,257.1 1273.6,250.7 1277.5,244.6 1281.3,238.5 1285.1,232.2 1289.0,226.3 1292.8,221.7 1296.6,218.5 1300.5,216.2 1304.3,214.8 1308.1,214.1 1311.7,213.9 1315.1,214.3 1318.9,215.7 1323.3,218.1 1328.8,222.7 1334.9,229.1 1341.4,235.1 1347.7,238.5 1353.9,238.3 1360.1,235.8 1366.2,232.4 1372.1,229.3 1377.6,227.0 1382.8,224.8 1388.0,222.2 1393.5,218.7 1399.9,213.5 1407.0,207.0 1413.4,200.9 1417.8,196.7" fill="none" stroke="#3cb371" stroke-width="1" shape-rendering="crispEdges"/>
<g shape-rendering="crispEdges">
<rect x="2" y="515" width="1" height="28" fill="#000"/>
<rect x="0" y="526" width="5" height="14" fill="#000"/>
<rect x="10" y="536" width="1" height="29" fill="#000"/>
<rect x="8" y="538" width="5" height="22" fill="#000"/>
<rect x="18" y="554" width="1" height="4" fill="#000"/>
<rect x="16" y="554" width="5" height="3" fill="#000"/>
<rect x="26" y="551" width="1" height="20" fill="#000"/>
<rect x="24" y="554" width="5" height="3" fill="#000"/>
<rect x="34" y="519" width="1" height="40" fill="#000"/>
<rect x="32" y="526" width="5" height="33" fill="#000"/>
<rect x="33" y="527" width="3" height="31" fill="#fff"/>
<rect x="42" y="506" width="1" height="40" fill="#000"/>
<rect x="40" y="511" width="5" height="17" fill="#000"/>
<rect x="41" y="512" width="3" height="15" fill="#fff"/>
<rect x="50" y="481" width="1" height="42" fill="#000"/>
<rect x="48" y="487" width="5" height="26" fill="#000"/>
<rect x="49" y="488" width="3" height="24" fill="#fff"/>
<rect x="58" y="461" width="1" height="31" fill="#000"/>
<rect x="56" y="479" width="5" height="9" fill="#000"/>
<rect x="57" y="480" width="3" height="7" fill="#fff"/>
<rect x="66" y="471" width="1" height="5" fill="#000"/>
<rect x="64" y="472" width="5" height="4" fill="#000"/>
<rect x="65" y="473" width="3" height="2" fill="#fff"/>
<rect x="74" y="458" width="1" height="22" fill="#000"/>
<rect x="72" y="469" width="5" height="6" fill="#000"/>
<rect x="73" y="470" width="3" height="4" fill="#fff"/>
<rect x="82" y="441" width="1" height="34" fill="#000"/>
<rect x="80" y="445" width="5" height="25" fill="#000"/>
<rect x="81" y="446" width="3" height="23" fill="#fff"/>
<rect x="90" y="417" width="1" height="32" fill="#000"/>
<rect x="88" y="426" width="5" height="21" fill="#000"/>
<rect x="89" y="427" width="3" height="19" fill="#fff"/>
<rect x="98" y="376" width="1" height="68" fill="#000"/>
<rect x="96" y="386" width="5" height="42" fill="#000"/>
<rect x="97" y="387" width="3" height="40" fill="#fff"/>
<rect x="106" y="367" width="1" height="44" fill="#000"/>
<rect x="104" y="386" width="5" height="18" fill="#000"/>
<rect x="114" y="392" width="1" height="19" fill="#000"/>
<rect x="112" y="394" width="5" height="7" fill="#000"/>
<rect x="113" y="395" width="3" height="5" fill="#fff"/>
<rect x="122" y="393" width="1" height="22" fill="#000"/>
<rect x="120" y="394" width="5" height="7" fill="#000"/>
<rect x="130" y="375" width="1" height="50" fill="#000"/>
<rect x="128" y="388" width="5" height="13" fill="#000"/>
<rect x="129" y="389" width="3" height="11" fill="#fff"/>
<rect x="138" y="352" width="1" height="42" fill="#000"/>
<rect x="136" y="374" width="5" height="15" fill="#000"/>
<rect x="137" y="375" width="3" height="13" fill="#fff"/>
<rect x="146" y="360" width="1" height="46" fill="#000"/>
<rect x="144" y="374" width="5" height="32" fill="#000"/>
<rect x="154" y="384" width="1" height="52" fill="#000"/>
<rect x="152" y="405" width="5" height="24" fill="#000"/>
<rect x="162" y="416" width="1" height="9" fill="#000"/>
<rect x="160" y="419" width="5" height="3" fill="#000"/>
<rect x="161" y="420" width="3" height="1" fill="#fff"/>
<rect x="170" y="385" width="1" height="46" fill="#000"/>
<rect x="168" y="385" width="5" height="36" fill="#000"/>
<rect x="169" y="386" width="3" height="34" fill="#fff"/>
<rect x="178" y="379" width="1" height="51" fill="#000"/>
<rect x="176" y="385" width="5" height="31" fill="#000"/>
<rect x="186" y="403" width="1" height="36" fill="#000"/>
<rect x="184" y="414" width="5" height="11" fill="#000"/>
<rect x="194" y="415" width="1" height="32" fill="#000"/>
<rect x="192" y="423" width="5" height="15" fill="#000"/>
<rect x="202" y="418" width="1" height="36" fill="#000"/>
<rect x="200" y="436" width="5" height="11" fill="#000"/>
<rect x="210" y="447" width="1" height="7" fill="#000"/>
<rect x="208" y="447" width="5" height="4" fill="#000"/>
<rect x="218" y="408" width="1" height="43" fill="#000"/>
<rect x="216" y="409" width="5" height="41" fill="#000"/>
<rect x="217" y="410" width="3" height="39" fill="#fff"/>
<rect x="226" y="381" width="1" height="47" fill="#000"/>
<rect x="224" y="395" width="5" height="15" fill="#000"/>
<rect x="225" y="396" width="3" height="13" fill="#fff"/>
<rect x="234" y="390" width="1" height="32" fill="#000"/>
<rect x="232" y="395" width="5" height="27" fill="#000"/>
<rect x="242" y="416" width="1" height="29" fill="#000"/>
<rect x="240" y="420" width="5" height="14" fill="#000"/>
<rect x="250" y="424" width="1" height="19" fill="#000"/>
<rect x="248" y="429" width="5" height="4" fill="#000"/>
<rect x="249" y="430" width="3" height="2" fill="#fff"/>
<rect x="258" y="430" width="1" height="4" fill="#000"/>
<rect x="256" y="430" width="5" height="3" fill="#000"/>
<rect x="266" y="405" width="1" height="28" fill="#000"/>
<rect x="264" y="421" width="5" height="12" fill="#000"/>
<rect x="265" y="422" width="3" height="10" fill="#fff"/>
<rect x="274" y="416" width="1" height="29" fill="#000"/>
<rect x="272" y="421" width="5" height="7" fill="#000"/>
<rect x="282" y="410" width="1" height="36" fill="#000"/>
<rect x="280" y="419" width="5" height="8" fill="#000"/>
<rect x="281" y="420" width="3" height="6" fill="#fff"/>
<rect x="290" y="399" width="1" height="33" fill="#000"/>
<rect x="288" y="419" width="5" height="7" fill="#000"/>
<rect x="298" y="420" width="1" height="14" fill="#000"/>
<rect x="296" y="422" width="5" height="4" fill="#000"/>
<rect x="297" y="423" width="3" height="2" fill="#fff"/>
<rect x="306" y="420" width="1" height="4" fill="#000"/>
<rect x="304" y="421" width="5" height="3" fill="#000"/>
<rect x="314" y="382" width="1" height="40" fill="#000"/>
<rect x="312" y="395" width="5" height="27" fill="#000"/>
<rect x="313" y="396" width="3" height="25" fill="#fff"/>
<rect x="322" y="387" width="1" height="31" fill="#000"/>
<rect x="320" y="396" width="5" height="16" fill="#000"/>
<rect x="330" y="380" width="1" height="37" fill="#000"/>
<rect x="328" y="386" width="5" height="25" fill="#000"/>
<rect x="329" y="387" width="3" height="23" fill="#fff"/>
<rect x="338" y="373" width="1" height="36" fill="#000"/>
<rect x="336" y="385" width="5" height="21" fill="#000"/>
<rect x="346" y="391" width="1" height="29" fill="#000"/>
<rect x="344" y="401" width="5" height="5" fill="#000"/>
<rect x="345" y="402" width="3" height="3" fill="#fff"/>
<rect x="354" y="393" width="1" height="6" fill="#000"/>
<rect x="352" y="394" width="5" height="4" fill="#000"/>
<rect x="362" y="371" width="1" height="30" fill="#000"/>
<rect x="360" y="383" width="5" height="16" fill="#000"/>
<rect x="361" y="384" width="3" height="14" fill="#fff"/>
<rect x="370" y="357" width="1" height="34" fill="#000"/>
<rect x="368" y="357" width="5" height="27" fill="#000"/>
<rect x="369" y="358" width="3" height="25" fill="#fff"/>
<rect x="378" y="341" width="1" height="24" fill="#000"/>
<rect x="376" y="354" width="5" height="4" fill="#000"/>
<rect x="377" y="355" width="3" height="2" fill="#fff"/>
<rect x="386" y="345" width="1" height="29" fill="#000"/>
<rect x="384" y="354" width="5" height="14" fill="#000"/>
<rect x="394" y="344" width="1" height="28" fill="#000"/>
<rect x="392" y="346" width="5" height="22" fill="#000"/>
<rect x="393" y="347" width="3" height="20" fill="#fff"/>
<rect x="402" y="344" width="1" height="4" fill="#000"/>
<rect x="400" y="344" width="5" height="4" fill="#000"/>
<rect x="401" y="345" width="3" height="2" fill="#fff"/>
<rect x="410" y="334" width="1" height="27" fill="#000"/>
<rect x="408" y="339" width="5" height="8" fill="#000"/>
<rect x="409" y="340" width="3" height="6" fill="#fff"/>
<rect x="418" y="305" width="1" height="49" fill="#000"/>
<rect x="416" y="308" width="5" height="31" fill="#000"/>
<rect x="417" y="309" width="3" height="29" fill="#fff"/>
<rect x="426" y="282" width="1" height="39" fill="#000"/>
<rect x="424" y="296" width="5" height="13" fill="#000"/>
<rect x="425" y="297" width="3" height="11" fill="#fff"/>
<rect x="434" y="272" width="1" height="36" fill="#000"/>
<rect x="432" y="284" width="5" height="13" fill="#000"/>
<rect x="433" y="285" width="3" height="11" fill="#fff"/>
<rect x="442" y="264" width="1" height="28" fill="#000"/>
<rect x="440" y="268" width="5" height="18" fill="#000"/>
<rect x="441" y="269" width="3" height="16" fill="#fff"/>
<rect x="450" y="261" width="1" height="7" fill="#000"/>
<rect x="448" y="262" width="5" height="3" fill="#000"/>
<rect x="458" y="211" width="1" height="54" fill="#000"/>
<rect x="456" y="217" width="5" height="48" fill="#000"/>
<rect x="457" y="218" width="3" height="46" fill="#fff"/>
<rect x="466" y="214" width="1" height="32" fill="#000"/>
<rect x="464" y="217" width="5" height="21" fill="#000"/>
<rect x="474" y="203" width="1" height="37" fill="#000"/>
<rect x="472" y="212" width="5" height="26" fill="#000"/>
<rect x="473" y="213" width="3" height="24" fill="#fff"/>
<rect x="482" y="175" width="1" height="58" fill="#000"/>
<rect x="480" y="176" width="5" height="37" fill="#000"/>
<rect x="481" y="177" width="3" height="35" fill="#fff"/>
<rect x="490" y="162" width="1" height="59" fill="#000"/>
<rect x="488" y="176" width="5" height="35" fill="#000"/>
<rect x="498" y="205" width="1" height="10" fill="#000"/>
<rect x="496" y="206" width="5" height="7" fill="#000"/>
<rect x="506" y="209" width="1" height="38" fill="#000"/>
<rect x="504" y="211" width="5" height="11" fill="#000"/>
<rect x="514" y="198" width="1" height="39" fill="#000"/>
<rect x="512" y="199" width="5" height="23" fill="#000"/>
<rect x="513" y="200" width="3" height="21" fill="#fff"/>
<rect x="522" y="163" width="1" height="43" fill="#000"/>
<rect x="520" y="176" width="5" height="25" fill="#000"/>
<rect x="521" y="177" width="3" height="23" fill="#fff"/>
<rect x="530" y="159" width="1" height="40" fill="#000"/>
<rect x="528" y="175" width="5" height="3" fill="#000"/>
<rect x="538" y="172" width="1" height="52" fill="#000"/>
<rect x="536" y="175" width="5" height="39" fill="#000"/>
<rect x="546" y="211" width="1" height="4" fill="#000"/>
<rect x="544" y="212" width="5" height="3" fill="#000"/>
<rect x="554" y="204" width="1" height="27" fill="#000"/>
<rect x="552" y="211" width="5" height="20" fill="#000"/>
<rect x="562" y="201" width="1" height="36" fill="#000"/>
<rect x="560" y="229" width="5" height="3" fill="#000"/>
<rect x="570" y="198" width="1" height="43" fill="#000"/>
<rect x="568" y="206" width="5" height="25" fill="#000"/>
<rect x="569" y="207" width="3" height="23" fill="#fff"/>
<rect x="578" y="179" width="1" height="34" fill="#000"/>
<rect x="576" y="198" width="5" height="10" fill="#000"/>
<rect x="577" y="199" width="3" height="8" fill="#fff"/>
<rect x="586" y="184" width="1" height="29" fill="#000"/>
<rect x="584" y="189" width="5" height="11" fill="#000"/>
<rect x="585" y="190" width="3" height="9" fill="#fff"/>
<rect x="594" y="183" width="1" height="6" fill="#000"/>
<rect x="592" y="184" width="5" height="5" fill="#000"/>
<rect x="593" y="185" width="3" height="3" fill="#fff"/>
<rect x="602" y="172" width="1" height="23" fill="#000"/>
<rect x="600" y="175" width="5" height="10" fill="#000"/>
<rect x="601" y="176" width="3" height="8" fill="#fff"/>
<rect x="610" y="139" width="1" height="37" fill="#000"/>
<rect x="608" y="147" width="5" height="29" fill="#000"/>
<rect x="609" y="148" width="3" height="27" fill="#fff"/>
<rect x="618" y="144" width="1" height="50" fill="#000"/>
<rect x="616" y="147" width="5" height="42" fill="#000"/>
<rect x="626" y="176" width="1" height="29" fill="#000"/>
<rect x="624" y="177" width="5" height="11" fill="#000"/>
<rect x="625" y="178" width="3" height="9" fill="#fff"/>
<rect x="634" y="172" width="1" height="52" fill="#000"/>
<rect x="632" y="177" width="5" height="34" fill="#000"/>
<rect x="642" y="202" width="1" height="5" fill="#000"/>
<rect x="640" y="203" width="5" height="4" fill="#000"/>
<rect x="650" y="185" width="1" height="27" fill="#000"/>
<rect x="648" y="205" width="5" height="4" fill="#000"/>
<rect x="658" y="187" width="1" height="25" fill="#000"/>
<rect x="656" y="191" width="5" height="17" fill="#000"/>
<rect x="657" y="192" width="3" height="15" fill="#fff"/>
<rect x="666" y="188" width="1" height="29" fill="#000"/>
<rect x="664" y="188" width="5" height="4" fill="#000"/>
<rect x="665" y="189" width="3" height="2" fill="#fff"/>
<rect x="674" y="164" width="1" height="57" fill="#000"/>
<rect x="672" y="188" width="5" height="10" fill="#000"/>
<rect x="682" y="157" width="1" height="45" fill="#000"/>
<rect x="680" y="169" width="5" height="30" fill="#000"/>
<rect x="681" y="170" width="3" height="28" fill="#fff"/>
<rect x="690" y="157" width="1" height="8" fill="#000"/>
<rect x="688" y="158" width="5" height="6" fill="#000"/>
<rect x="689" y="159" width="3" height="4" fill="#fff"/>
<rect x="698" y="139" width="1" height="34" fill="#000"/>
<rect x="696" y="151" width="5" height="8" fill="#000"/>
<rect x="697" y="152" width="3" height="6" fill="#fff"/>
<rect x="706" y="122" width="1" height="44" fill="#000"/>
<rect x="704" y="150" width="5" height="8" fill="#000"/>
<rect x="714" y="155" width="1" height="42" fill="#000"/>
<rect x="712" y="156" width="5" height="32" fill="#000"/>
<rect x="722" y="179" width="1" height="31" fill="#000"/>
<rect x="720" y="186" width="5" height="4" fill="#000"/>
<rect x="730" y="179" width="1" height="35" fill="#000"/>
<rect x="728" y="184" width="5" height="6" fill="#000"/>
<rect x="729" y="185" width="3" height="4" fill="#fff"/>
<rect x="738" y="188" width="1" height="5" fill="#000"/>
<rect x="736" y="188" width="5" height="5" fill="#000"/>
<rect x="746" y="185" width="1" height="16" fill="#000"/>
<rect x="744" y="191" width="5" height="7" fill="#000"/>
<rect x="754" y="193" width="1" height="30" fill="#000"/>
<rect x="752" y="197" width="5" height="22" fill="#000"/>
<rect x="762" y="191" width="1" height="34" fill="#000"/>
<rect x="760" y="203" width="5" height="16" fill="#000"/>
<rect x="761" y="204" width="3" height="14" fill="#fff"/>
<rect x="770" y="158" width="1" height="48" fill="#000"/>
<rect x="768" y="195" width="5" height="10" fill="#000"/>
<rect x="769" y="196" width="3" height="8" fill="#fff"/>
<rect x="778" y="175" width="1" height="21" fill="#000"/>
<rect x="776" y="192" width="5" height="4" fill="#000"/>
<rect x="777" y="193" width="3" height="2" fill="#fff"/>
<rect x="786" y="186" width="1" height="5" fill="#000"/>
<rect x="784" y="186" width="5" height="4" fill="#000"/>
<rect x="794" y="170" width="1" height="24" fill="#000"/>
<rect x="792" y="179" width="5" height="10" fill="#000"/>
<rect x="793" y="180" width="3" height="8" fill="#fff"/>
<rect x="802" y="165" width="1" height="26" fill="#000"/>
<rect x="800" y="178" width="5" height="12" fill="#000"/>
<rect x="810" y="172" width="1" height="39" fill="#000"/>
<rect x="808" y="188" width="5" height="16" fill="#000"/>
<rect x="818" y="182" width="1" height="49" fill="#000"/>
<rect x="816" y="186" width="5" height="19" fill="#000"/>
<rect x="817" y="187" width="3" height="17" fill="#fff"/>
<rect x="826" y="177" width="1" height="19" fill="#000"/>
<rect x="824" y="183" width="5" height="4" fill="#000"/>
<rect x="825" y="184" width="3" height="2" fill="#fff"/>
<rect x="834" y="185" width="1" height="4" fill="#000"/>
<rect x="832" y="185" width="5" height="3" fill="#000"/>
<rect x="842" y="176" width="1" height="57" fill="#000"/>
<rect x="840" y="186" width="5" height="35" fill="#000"/>
<rect x="850" y="215" width="1" height="34" fill="#000"/>
<rect x="848" y="219" width="5" height="24" fill="#000"/>
<rect x="858" y="236" width="1" height="28" fill="#000"/>
<rect x="856" y="241" width="5" height="21" fill="#000"/>
<rect x="866" y="250" width="1" height="24" fill="#000"/>
<rect x="864" y="255" width="5" height="7" fill="#000"/>
<rect x="865" y="256" width="3" height="5" fill="#fff"/>
<rect x="874" y="250" width="1" height="30" fill="#000"/>
<rect x="872" y="254" width="5" height="22" fill="#000"/>
<rect x="882" y="268" width="1" height="6" fill="#000"/>
<rect x="880" y="269" width="5" height="3" fill="#000"/>
<rect x="890" y="251" width="1" height="28" fill="#000"/>
<rect x="888" y="252" width="5" height="18" fill="#000"/>
<rect x="889" y="253" width="3" height="16" fill="#fff"/>
<rect x="898" y="225" width="1" height="34" fill="#000"/>
<rect x="896" y="227" width="5" height="28" fill="#000"/>
<rect x="897" y="228" width="3" height="26" fill="#fff"/>
<rect x="906" y="222" width="1" height="29" fill="#000"/>
<rect x="904" y="227" width="5" height="9" fill="#000"/>
<rect x="914" y="216" width="1" height="23" fill="#000"/>
<rect x="912" y="226" width="5" height="10" fill="#000"/>
<rect x="913" y="227" width="3" height="8" fill="#fff"/>
<rect x="922" y="226" width="1" height="21" fill="#000"/>
<rect x="920" y="226" width="5" height="15" fill="#000"/>
<rect x="930" y="235" width="1" height="5" fill="#000"/>
<rect x="928" y="236" width="5" height="3" fill="#000"/>
<rect x="938" y="205" width="1" height="33" fill="#000"/>
<rect x="936" y="209" width="5" height="28" fill="#000"/>
<rect x="937" y="210" width="3" height="26" fill="#fff"/>
<rect x="946" y="201" width="1" height="32" fill="#000"/>
<rect x="944" y="209" width="5" height="22" fill="#000"/>
<rect x="954" y="211" width="1" height="25" fill="#000"/>
<rect x="952" y="218" width="5" height="13" fill="#000"/>
<rect x="953" y="219" width="3" height="11" fill="#fff"/>
<rect x="962" y="211" width="1" height="20" fill="#000"/>
<rect x="960" y="217" width="5" height="3" fill="#000"/>
<rect x="970" y="193" width="1" height="30" fill="#000"/>
<rect x="968" y="194" width="5" height="25" fill="#000"/>
<rect x="969" y="195" width="3" height="23" fill="#fff"/>
<rect x="978" y="196" width="1" height="4" fill="#000"/>
<rect x="976" y="198" width="5" height="2" fill="#000"/>
<rect x="986" y="194" width="1" height="17" fill="#000"/>
<rect x="984" y="198" width="5" height="3" fill="#000"/>
<rect x="994" y="199" width="1" height="34" fill="#000"/>
<rect x="992" y="199" width="5" height="30" fill="#000"/>
<rect x="1002" y="215" width="1" height="22" fill="#000"/>
<rect x="1000" y="226" width="5" height="3" fill="#000"/>
<rect x="1010" y="221" width="1" height="29" fill="#000"/>
<rect x="1008" y="226" width="5" height="17" fill="#000"/>
<rect x="1018" y="225" width="1" height="23" fill="#000"/>
<rect x="1016" y="236" width="5" height="7" fill="#000"/>
<rect x="1017" y="237" width="3" height="5" fill="#fff"/>
<rect x="1026" y="237" width="1" height="4" fill="#000"/>
<rect x="1024" y="237" width="5" height="3" fill="#000"/>
<rect x="1034" y="207" width="1" height="37" fill="#000"/>
<rect x="1032" y="217" width="5" height="21" fill="#000"/>
<rect x="1033" y="218" width="3" height="19" fill="#fff"/>
<rect x="1042" y="188" width="1" height="33" fill="#000"/>
<rect x="1040" y="194" width="5" height="24" fill="#000"/>
<rect x="1041" y="195" width="3" height="22" fill="#fff"/>
<rect x="1050" y="173" width="1" height="22" fill="#000"/>
<rect x="1048" y="184" width="5" height="11" fill="#000"/>
<rect x="1049" y="185" width="3" height="9" fill="#fff"/>
<rect x="1058" y="178" width="1" height="24" fill="#000"/>
<rect x="1056" y="184" width="5" height="16" fill="#000"/>
<rect x="1066" y="180" width="1" height="31" fill="#000"/>
<rect x="1064" y="181" width="5" height="20" fill="#000"/>
<rect x="1065" y="182" width="3" height="18" fill="#fff"/>
<rect x="1074" y="186" width="1" height="4" fill="#000"/>
<rect x="1072" y="186" width="5" height="4" fill="#000"/>
<rect x="1073" y="187" width="3" height="2" fill="#fff"/>
<rect x="1082" y="184" width="1" height="21" fill="#000"/>
<rect x="1080" y="186" width="5" height="17" fill="#000"/>
<rect x="1090" y="189" width="1" height="29" fill="#000"/>
<rect x="1088" y="201" width="5" height="12" fill="#000"/>
<rect x="1098" y="209" width="1" height="29" fill="#000"/>
<rect x="1096" y="211" width="5" height="15" fill="#000"/>
<rect x="1106" y="220" width="1" height="45" fill="#000"/>
<rect x="1104" y="225" width="5" height="29" fill="#000"/>
<rect x="1114" y="242" width="1" height="26" fill="#000"/>
<rect x="1112" y="252" width="5" height="15" fill="#000"/>
<rect x="1122" y="265" width="1" height="3" fill="#000"/>
<rect x="1120" y="265" width="5" height="3" fill="#000"/>
<rect x="1130" y="261" width="1" height="15" fill="#000"/>
<rect x="1128" y="266" width="5" height="2" fill="#000"/>
<rect x="1138" y="218" width="1" height="51" fill="#000"/>
<rect x="1136" y="219" width="5" height="49" fill="#000"/>
<rect x="1137" y="220" width="3" height="47" fill="#fff"/>
<rect x="1146" y="216" width="1" height="68" fill="#000"/>
<rect x="1144" y="219" width="5" height="14" fill="#000"/>
<rect x="1154" y="181" width="1" height="60" fill="#000"/>
<rect x="1152" y="198" width="5" height="35" fill="#000"/>
<rect x="1153" y="199" width="3" height="33" fill="#fff"/>
<rect x="1162" y="169" width="1" height="39" fill="#000"/>
<rect x="1160" y="172" width="5" height="27" fill="#000"/>
<rect x="1161" y="173" width="3" height="25" fill="#fff"/>
<rect x="1170" y="167" width="1" height="6" fill="#000"/>
<rect x="1168" y="168" width="5" height="4" fill="#000"/>
<rect x="1169" y="169" width="3" height="2" fill="#fff"/>
<rect x="1178" y="157" width="1" height="51" fill="#000"/>
<rect x="1176" y="168" width="5" height="29" fill="#000"/>
<rect x="1186" y="187" width="1" height="27" fill="#000"/>
<rect x="1184" y="195" width="5" height="3" fill="#000"/>
<rect x="1194" y="191" width="1" height="37" fill="#000"/>
<rect x="1192" y="197" width="5" height="16" fill="#000"/>
<rect x="1202" y="195" width="1" height="27" fill="#000"/>
<rect x="1200" y="203" width="5" height="11" fill="#000"/>
<rect x="1201" y="204" width="3" height="9" fill="#fff"/>
<rect x="1210" y="191" width="1" height="15" fill="#000"/>
<rect x="1208" y="191" width="5" height="14" fill="#000"/>
<rect x="1209" y="192" width="3" height="12" fill="#fff"/>
<rect x="1218" y="185" width="1" height="6" fill="#000"/>
<rect x="1216" y="187" width="5" height="4" fill="#000"/>
<rect x="1217" y="188" width="3" height="2" fill="#fff"/>
<rect x="1226" y="177" width="1" height="24" fill="#000"/>
<rect x="1224" y="181" width="5" height="6" fill="#000"/>
<rect x="1225" y="182" width="3" height="4" fill="#fff"/>
<rect x="1234" y="167" width="1" height="23" fill="#000"/>
<rect x="1232" y="179" width="5" height="3" fill="#000"/>
<rect x="1233" y="180" width="3" height="1" fill="#fff"/>
<rect x="1242" y="169" width="1" height="20" fill="#000"/>
<rect x="1240" y="179" width="5" height="9" fill="#000"/>
<rect x="1250" y="172" width="1" height="28" fill="#000"/>
<rect x="1248" y="179" width="5" height="9" fill="#000"/>
<rect x="1249" y="180" width="3" height="7" fill="#fff"/>
<rect x="1258" y="169" width="1" height="18" fill="#000"/>
<rect x="1256" y="178" width="5" height="4" fill="#000"/>
<rect x="1266" y="178" width="1" height="4" fill="#000"/>
<rect x="1264" y="178" width="5" height="4" fill="#000"/>
<rect x="1265" y="179" width="3" height="2" fill="#fff"/>
<rect x="1274" y="163" width="1" height="43" fill="#000"/>
<rect x="1272" y="179" width="5" height="10" fill="#000"/>
<rect x="1282" y="166" width="1" height="24" fill="#000"/>
<rect x="1280" y="166" width="5" height="22" fill="#000"/>
<rect x="1281" y="167" width="3" height="20" fill="#fff"/>
<rect x="1290" y="153" width="1" height="21" fill="#000"/>
<rect x="1288" y="159" width="5" height="8" fill="#000"/>
<rect x="1289" y="160" width="3" height="6" fill="#fff"/>
<rect x="1298" y="155" width="1" height="17" fill="#000"/>
<rect x="1296" y="158" width="5" height="4" fill="#000"/>
<rect x="1306" y="140" width="1" height="22" fill="#000"/>
<rect x="1304" y="144" width="5" height="18" fill="#000"/>
<rect x="1305" y="145" width="3" height="16" fill="#fff"/>
<rect x="1314" y="136" width="1" height="6" fill="#000"/>
<rect x="1312" y="137" width="5" height="2" fill="#000"/>
<rect x="1322" y="124" width="1" height="34" fill="#000"/>
<rect x="1320" y="137" width="5" height="14" fill="#000"/>
<rect x="1330" y="97" width="1" height="55" fill="#000"/>
<rect x="1328" y="99" width="5" height="53" fill="#000"/>
<rect x="1329" y="100" width="3" height="51" fill="#fff"/>
<rect x="1338" y="79" width="1" height="33" fill="#000"/>
<rect x="1336" y="81" width="5" height="18" fill="#000"/>
<rect x="1337" y="82" width="3" height="16" fill="#fff"/>
<rect x="1346" y="57" width="1" height="25" fill="#000"/>
<rect x="1344" y="69" width="5" height="13" fill="#000"/>
<rect x="1345" y="70" width="3" height="11" fill="#fff"/>
<rect x="1354" y="56" width="1" height="20" fill="#000"/>
<rect x="1352" y="69" width="5" height="5" fill="#000"/>
<rect x="1362" y="74" width="1" height="7" fill="#000"/>
<rect x="1360" y="77" width="5" height="4" fill="#000"/>
<rect x="1370" y="61" width="1" height="36" fill="#000"/>
<rect x="1368" y="79" width="5" height="4" fill="#000"/>
<rect x="1378" y="73" width="1" height="18" fill="#000"/>
<rect x="1376" y="82" width="5" height="5" fill="#000"/>
<rect x="1386" y="68" width="1" height="37" fill="#000"/>
<rect x="1384" y="88" width="5" height="8" fill="#000"/>
<rect x="1394" y="63" width="1" height="33" fill="#000"/>
<rect x="1392" y="69" width="5" height="27" fill="#000"/>
<rect x="1393" y="70" width="3" height="25" fill="#fff"/>
<rect x="1402" y="62" width="1" height="20" fill="#000"/>
<rect x="1400" y="70" width="5" height="12" fill="#000"/>
<rect x="1410" y="71" width="1" height="5" fill="#000"/>
<rect x="1408" y="74" width="5" height="2" fill="#000"/>
<rect x="1418" y="56" width="1" height="25" fill="#000"/>
<rect x="1416" y="70" width="5" height="5" fill="#000"/>
<rect x="1417" y="71" width="3" height="3" fill="#fff"/>
</g>
</g>
<g shape-rendering="crispEdges">
<rect x="67.5" y="344.5" width="61" height="18" fill="#fff" stroke="#f00" stroke-width="1"/>
<rect x="129" y="353" width="10" height="1" fill="#f00"/>
<rect x="635.5" y="113.5" width="61" height="18" fill="#fff" stroke="#f00" stroke-width="1"/>
<rect x="697" y="122" width="10" height="1" fill="#f00"/>
<rect x="803.5" y="268.5" width="61" height="18" fill="#fff" stroke="#f00" stroke-width="1"/>
<rect x="865" y="276" width="10" height="1" fill="#f00"/>
<rect x="1133.5" y="72.5" width="73" height="24" fill="#fff" stroke="#f00" stroke-width="1"/>
<rect x="1123" y="84" width="8" height="1" fill="#f00"/>
<rect x="1130.5" y="82.5" width="3" height="3" fill="#fff" stroke="#f00" stroke-width="1"/>
</g>
<text x="70" y="360" font-size="17" fill="#f00" textLength="57" lengthAdjust="spacingAndGlyphs" >1.14195</text>
<text x="638" y="129" font-size="17" fill="#f00" textLength="57" lengthAdjust="spacingAndGlyphs" >1.20100</text>
<text x="806" y="284" font-size="17" fill="#f00" textLength="57" lengthAdjust="spacingAndGlyphs" >1.16137</text>
<text x="1135.5" y="92.8" font-size="23.5" fill="#f00" textLength="70" lengthAdjust="spacingAndGlyphs" stroke="#f00" stroke-width="0.35">1.21046</text>
<line x1="1275" y1="194" x2="1340.9478810710784" y2="67.63832577989179" stroke="#ff0000" stroke-width="3.6" stroke-linecap="butt"/><polygon points="1346.5,57 1345.8237803868622,70.18304695564753 1336.0719817552947,65.09360460413605" fill="#ff0000"/>
<line x1="1346.5" y1="57" x2="1373.4547542323903" y2="83.57510980658206" stroke="#ff0000" stroke-width="3.6" stroke-linecap="butt"/><polygon points="1382,92 1369.5933462270737,87.49168078340314 1377.316162237707,79.65853882976099" fill="#ff0000"/>
<line x1="1384" y1="94" x2="1436.034261416557" y2="70.87366159264137" stroke="#ff0000" stroke-width="3.6" stroke-linecap="butt"/><polygon points="1447,66 1438.268022979851,75.89962511005278 1433.800499853263,65.84769807522996" fill="#ff0000"/>
<rect x="1255" y="83" width="207" height="5" fill="#00ff00" shape-rendering="crispEdges"/>
<rect x="1483.5" y="64.5" width="110" height="24" fill="none" stroke="#333" stroke-width="1" shape-rendering="crispEdges"/>
<rect x="1536" y="62" width="3" height="3" fill="#00ff00" shape-rendering="crispEdges"/>
<polygon points="0,36 3,40 0,40" fill="#000"/>
<text x="9.4" y="41.5" font-size="10" fill="#000" textLength="66" lengthAdjust="spacingAndGlyphs" >EURUSD-,Daily</text>
<text x="82.5" y="41.5" font-size="10" fill="#000" textLength="140" lengthAdjust="spacingAndGlyphs" >1.21322 1.21761 1.21149 1.21425</text>
<g clip-path="url(#macdclip)">
<g shape-rendering="crispEdges">
<rect x="2" y="702" width="1" height="9" fill="#c0c0c0"/>
<rect x="10" y="702" width="1" height="9" fill="#c0c0c0"/>
<rect x="18" y="702" width="1" height="9" fill="#c0c0c0"/>
<rect x="26" y="702" width="1" height="9" fill="#c0c0c0"/>
<rect x="34" y="697" width="1" height="14" fill="#c0c0c0"/>
<rect x="42" y="690" width="1" height="21" fill="#c0c0c0"/>
<rect x="50" y="681" width="1" height="30" fill="#c0c0c0"/>
<rect x="58" y="673" width="1" height="38" fill="#c0c0c0"/>
<rect x="66" y="666" width="1" height="45" fill="#c0c0c0"/>
<rect x="74" y="661" width="1" height="50" fill="#c0c0c0"/>
<rect x="82" y="653" width="1" height="58" fill="#c0c0c0"/>
<rect x="90" y="644" width="1" height="67" fill="#c0c0c0"/>
<rect x="98" y="631" width="1" height="80" fill="#c0c0c0"/>
<rect x="106" y="625" width="1" height="86" fill="#c0c0c0"/>
<rect x="114" y="619" width="1" height="92" fill="#c0c0c0"/>
<rect x="122" y="616" width="1" height="95" fill="#c0c0c0"/>
<rect x="130" y="614" width="1" height="97" fill="#c0c0c0"/>
<rect x="138" y="610" width="1" height="101" fill="#c0c0c0"/>
<rect x="146" y="614" width="1" height="97" fill="#c0c0c0"/>
<rect x="154" y="622" width="1" height="89" fill="#c0c0c0"/>
<rect x="162" y="628" width="1" height="83" fill="#c0c0c0"/>
<rect x="170" y="628" width="1" height="83" fill="#c0c0c0"/>
<rect x="178" y="633" width="1" height="78" fill="#c0c0c0"/>
<rect x="186" y="640" width="1" height="71" fill="#c0c0c0"/>
<rect x="194" y="649" width="1" height="62" fill="#c0c0c0"/>
<rect x="202" y="657" width="1" height="54" fill="#c0c0c0"/>
<rect x="210" y="666" width="1" height="45" fill="#c0c0c0"/>
<rect x="218" y="666" width="1" height="45" fill="#c0c0c0"/>
<rect x="226" y="664" width="1" height="47" fill="#c0c0c0"/>
<rect x="234" y="667" width="1" height="44" fill="#c0c0c0"/>
<rect x="242" y="672" width="1" height="39" fill="#c0c0c0"/>
<rect x="250" y="677" width="1" height="34" fill="#c0c0c0"/>
<rect x="258" y="680" width="1" height="31" fill="#c0c0c0"/>
<rect x="266" y="682" width="1" height="29" fill="#c0c0c0"/>
<rect x="274" y="685" width="1" height="26" fill="#c0c0c0"/>
<rect x="282" y="686" width="1" height="25" fill="#c0c0c0"/>
<rect x="290" y="688" width="1" height="23" fill="#c0c0c0"/>
<rect x="298" y="688" width="1" height="23" fill="#c0c0c0"/>
<rect x="306" y="690" width="1" height="21" fill="#c0c0c0"/>
<rect x="314" y="687" width="1" height="24" fill="#c0c0c0"/>
<rect x="322" y="685" width="1" height="26" fill="#c0c0c0"/>
<rect x="330" y="684" width="1" height="27" fill="#c0c0c0"/>
<rect x="338" y="685" width="1" height="26" fill="#c0c0c0"/>
<rect x="346" y="685" width="1" height="26" fill="#c0c0c0"/>
<rect x="354" y="684" width="1" height="27" fill="#c0c0c0"/>
<rect x="362" y="682" width="1" height="29" fill="#c0c0c0"/>
<rect x="370" y="676" width="1" height="35" fill="#c0c0c0"/>
<rect x="378" y="670" width="1" height="41" fill="#c0c0c0"/>
<rect x="386" y="670" width="1" height="41" fill="#c0c0c0"/>
<rect x="394" y="666" width="1" height="45" fill="#c0c0c0"/>
<rect x="402" y="662" width="1" height="49" fill="#c0c0c0"/>
<rect x="410" y="661" width="1" height="50" fill="#c0c0c0"/>
<rect x="418" y="654" width="1" height="57" fill="#c0c0c0"/>
<rect x="426" y="646" width="1" height="65" fill="#c0c0c0"/>
<rect x="434" y="641" width="1" height="70" fill="#c0c0c0"/>
<rect x="442" y="634" width="1" height="77" fill="#c0c0c0"/>
<rect x="450" y="628" width="1" height="83" fill="#c0c0c0"/>
<rect x="458" y="616" width="1" height="95" fill="#c0c0c0"/>
<rect x="466" y="612" width="1" height="99" fill="#c0c0c0"/>
<rect x="474" y="605" width="1" height="106" fill="#c0c0c0"/>
<rect x="482" y="595" width="1" height="116" fill="#c0c0c0"/>
<rect x="490" y="594" width="1" height="117" fill="#c0c0c0"/>
<rect x="498" y="595" width="1" height="116" fill="#c0c0c0"/>
<rect x="506" y="599" width="1" height="112" fill="#c0c0c0"/>
<rect x="514" y="599" width="1" height="112" fill="#c0c0c0"/>
<rect x="522" y="597" width="1" height="114" fill="#c0c0c0"/>
<rect x="530" y="597" width="1" height="114" fill="#c0c0c0"/>
<rect x="538" y="603" width="1" height="108" fill="#c0c0c0"/>
<rect x="546" y="610" width="1" height="101" fill="#c0c0c0"/>
<rect x="554" y="620" width="1" height="91" fill="#c0c0c0"/>
<rect x="562" y="628" width="1" height="83" fill="#c0c0c0"/>
<rect x="570" y="632" width="1" height="79" fill="#c0c0c0"/>
<rect x="578" y="634" width="1" height="77" fill="#c0c0c0"/>
<rect x="586" y="635" width="1" height="76" fill="#c0c0c0"/>
<rect x="594" y="636" width="1" height="75" fill="#c0c0c0"/>
<rect x="602" y="636" width="1" height="75" fill="#c0c0c0"/>
<rect x="610" y="632" width="1" height="79" fill="#c0c0c0"/>
<rect x="618" y="637" width="1" height="74" fill="#c0c0c0"/>
<rect x="626" y="640" width="1" height="71" fill="#c0c0c0"/>
<rect x="634" y="648" width="1" height="63" fill="#c0c0c0"/>
<rect x="642" y="655" width="1" height="56" fill="#c0c0c0"/>
<rect x="650" y="661" width="1" height="50" fill="#c0c0c0"/>
<rect x="658" y="664" width="1" height="47" fill="#c0c0c0"/>
<rect x="666" y="666" width="1" height="45" fill="#c0c0c0"/>
<rect x="674" y="670" width="1" height="41" fill="#c0c0c0"/>
<rect x="682" y="668" width="1" height="43" fill="#c0c0c0"/>
<rect x="690" y="666" width="1" height="45" fill="#c0c0c0"/>
<rect x="698" y="662" width="1" height="49" fill="#c0c0c0"/>
<rect x="706" y="662" width="1" height="49" fill="#c0c0c0"/>
<rect x="714" y="668" width="1" height="43" fill="#c0c0c0"/>
<rect x="722" y="673" width="1" height="38" fill="#c0c0c0"/>
<rect x="730" y="676" width="1" height="35" fill="#c0c0c0"/>
<rect x="738" y="681" width="1" height="30" fill="#c0c0c0"/>
<rect x="746" y="685" width="1" height="26" fill="#c0c0c0"/>
<rect x="754" y="693" width="1" height="18" fill="#c0c0c0"/>
<rect x="762" y="697" width="1" height="14" fill="#c0c0c0"/>
<rect x="770" y="698" width="1" height="13" fill="#c0c0c0"/>
<rect x="778" y="699" width="1" height="12" fill="#c0c0c0"/>
<rect x="786" y="700" width="1" height="11" fill="#c0c0c0"/>
<rect x="794" y="698" width="1" height="13" fill="#c0c0c0"/>
<rect x="802" y="699" width="1" height="12" fill="#c0c0c0"/>
<rect x="810" y="702" width="1" height="9" fill="#c0c0c0"/>
<rect x="818" y="702" width="1" height="9" fill="#c0c0c0"/>
<rect x="826" y="701" width="1" height="10" fill="#c0c0c0"/>
<rect x="834" y="701" width="1" height="10" fill="#c0c0c0"/>
<rect x="842" y="707" width="1" height="4" fill="#c0c0c0"/>
<rect x="850" y="711" width="1" height="4" fill="#c0c0c0"/>
<rect x="858" y="711" width="1" height="14" fill="#c0c0c0"/>
<rect x="866" y="711" width="1" height="20" fill="#c0c0c0"/>
<rect x="874" y="711" width="1" height="29" fill="#c0c0c0"/>
<rect x="882" y="711" width="1" height="34" fill="#c0c0c0"/>
<rect x="890" y="711" width="1" height="35" fill="#c0c0c0"/>
<rect x="898" y="711" width="1" height="31" fill="#c0c0c0"/>
<rect x="906" y="711" width="1" height="28" fill="#c0c0c0"/>
<rect x="914" y="711" width="1" height="26" fill="#c0c0c0"/>
<rect x="922" y="711" width="1" height="24" fill="#c0c0c0"/>
<rect x="930" y="711" width="1" height="23" fill="#c0c0c0"/>
<rect x="938" y="711" width="1" height="16" fill="#c0c0c0"/>
<rect x="946" y="711" width="1" height="15" fill="#c0c0c0"/>
<rect x="954" y="711" width="1" height="12" fill="#c0c0c0"/>
<rect x="962" y="711" width="1" height="9" fill="#c0c0c0"/>
<rect x="970" y="711" width="1" height="3" fill="#c0c0c0"/>
<rect x="986" y="707" width="1" height="4" fill="#c0c0c0"/>
<rect x="994" y="710" width="1" height="1" fill="#c0c0c0"/>
<rect x="1010" y="711" width="1" height="3" fill="#c0c0c0"/>
<rect x="1018" y="711" width="1" height="5" fill="#c0c0c0"/>
<rect x="1026" y="711" width="1" height="7" fill="#c0c0c0"/>
<rect x="1034" y="711" width="1" height="5" fill="#c0c0c0"/>
<rect x="1050" y="705" width="1" height="6" fill="#c0c0c0"/>
<rect x="1058" y="703" width="1" height="8" fill="#c0c0c0"/>
<rect x="1066" y="698" width="1" height="13" fill="#c0c0c0"/>
<rect x="1074" y="695" width="1" height="16" fill="#c0c0c0"/>
<rect x="1082" y="696" width="1" height="15" fill="#c0c0c0"/>
<rect x="1090" y="698" width="1" height="13" fill="#c0c0c0"/>
<rect x="1098" y="702" width="1" height="9" fill="#c0c0c0"/>
<rect x="1114" y="711" width="1" height="8" fill="#c0c0c0"/>
<rect x="1122" y="711" width="1" height="15" fill="#c0c0c0"/>
<rect x="1130" y="711" width="1" height="20" fill="#c0c0c0"/>
<rect x="1138" y="711" width="1" height="16" fill="#c0c0c0"/>
<rect x="1146" y="711" width="1" height="14" fill="#c0c0c0"/>
<rect x="1154" y="711" width="1" height="5" fill="#c0c0c0"/>
<rect x="1162" y="709" width="1" height="2" fill="#c0c0c0"/>
<rect x="1170" y="701" width="1" height="10" fill="#c0c0c0"/>
<rect x="1178" y="699" width="1" height="12" fill="#c0c0c0"/>
<rect x="1186" y="698" width="1" height="13" fill="#c0c0c0"/>
<rect x="1194" y="700" width="1" height="11" fill="#c0c0c0"/>
<rect x="1202" y="700" width="1" height="11" fill="#c0c0c0"/>
<rect x="1210" y="698" width="1" height="13" fill="#c0c0c0"/>
<rect x="1218" y="696" width="1" height="15" fill="#c0c0c0"/>
<rect x="1226" y="693" width="1" height="18" fill="#c0c0c0"/>
<rect x="1234" y="691" width="1" height="20" fill="#c0c0c0"/>
<rect x="1242" y="691" width="1" height="20" fill="#c0c0c0"/>
<rect x="1250" y="690" width="1" height="21" fill="#c0c0c0"/>
<rect x="1258" y="690" width="1" height="21" fill="#c0c0c0"/>
<rect x="1266" y="690" width="1" height="21" fill="#c0c0c0"/>
<rect x="1274" y="691" width="1" height="20" fill="#c0c0c0"/>
<rect x="1282" y="690" width="1" height="21" fill="#c0c0c0"/>
<rect x="1290" y="686" width="1" height="25" fill="#c0c0c0"/>
<rect x="1298" y="684" width="1" height="27" fill="#c0c0c0"/>
<rect x="1306" y="680" width="1" height="31" fill="#c0c0c0"/>
<rect x="1314" y="676" width="1" height="35" fill="#c0c0c0"/>
<rect x="1322" y="676" width="1" height="35" fill="#c0c0c0"/>
<rect x="1330" y="667" width="1" height="44" fill="#c0c0c0"/>
<rect x="1338" y="658" width="1" height="53" fill="#c0c0c0"/>
<rect x="1346" y="649" width="1" height="62" fill="#c0c0c0"/>
<rect x="1354" y="643" width="1" height="68" fill="#c0c0c0"/>
<rect x="1362" y="641" width="1" height="70" fill="#c0c0c0"/>
<rect x="1370" y="640" width="1" height="71" fill="#c0c0c0"/>
<rect x="1378" y="641" width="1" height="70" fill="#c0c0c0"/>
<rect x="1386" y="644" width="1" height="67" fill="#c0c0c0"/>
<rect x="1394" y="644" width="1" height="67" fill="#c0c0c0"/>
<rect x="1402" y="645" width="1" height="66" fill="#c0c0c0"/>
<rect x="1410" y="646" width="1" height="65" fill="#c0c0c0"/>
<rect x="1418" y="647" width="1" height="64" fill="#c0c0c0"/>
</g>
<polyline points="0.5,720.2 3.6,718.9 8.1,717.1 13.1,715.1 17.8,713.5 22.1,712.5 26.5,711.9 30.9,711.2 35.2,709.8 39.4,707.6 43.5,705.0 47.8,702.0 52.5,699.0 57.9,696.1 63.7,693.2 69.7,689.9 75.6,686.1 81.4,681.5 87.1,676.3 92.9,670.8 98.7,665.3 104.6,659.6 110.6,653.6 116.4,647.9 121.8,642.8 126.5,638.6 130.8,635.0 134.9,631.8 139.1,628.9 143.4,626.2 147.8,623.8 152.2,621.7 156.5,620.2 161.0,619.3 165.5,619.0 169.9,619.0 173.8,619.1 177.0,619.2 179.6,619.4 182.2,620.0 185.4,621.1 189.3,623.0 193.7,625.6 198.2,628.4 202.7,631.2 207.0,634.0 211.2,636.9 215.5,639.9 220.0,642.8 224.8,645.7 229.9,648.5 235.1,651.4 240.2,654.3 245.3,657.3 250.5,660.4 255.6,663.3 260.5,665.9 264.9,668.0 269.0,669.7 273.1,671.3 277.8,673.1 283.2,675.3 289.2,677.7 295.2,679.9 300.9,681.8 306.2,683.1 311.2,684.1 316.1,684.9 321.1,685.5 326.2,686.0 331.3,686.4 336.3,686.6 341.4,686.7 346.5,686.6 351.6,686.4 356.7,686.1 361.5,685.5 365.9,684.7 370.0,683.6 374.2,682.4 378.9,681.2 384.5,680.0 390.6,678.7 396.7,677.4 402.0,676.0 406.0,674.8 409.3,673.6 412.5,672.2 416.5,670.2 421.8,667.3 427.9,663.8 433.9,660.2 439.0,657.3 442.7,655.3 445.7,653.8 448.2,652.5 451.0,650.8 454.0,648.7 456.9,646.4 459.9,644.0 463.0,641.6 466.2,639.1 469.5,636.6 472.8,634.0 476.0,631.4 479.1,628.9 482.1,626.3 485.1,623.8 488.0,621.3 490.8,618.8 493.5,616.2 496.2,613.8 499.1,611.6 502.2,609.8 505.5,608.4 508.8,607.0 512.0,605.6 515.1,604.0 518.1,602.4 521.0,600.8 524.0,599.6 527.1,598.7 530.3,598.0 533.4,597.5 536.0,597.2 537.9,597.0 539.3,596.9 540.7,596.9 542.5,597.2 544.9,597.6 547.7,598.3 550.6,599.0 553.5,600.0 556.4,601.2 559.4,602.6 562.4,604.1 565.5,605.6 568.5,607.0 571.4,608.5 574.6,610.1 578.5,612.0 583.3,614.4 588.8,617.1 594.6,619.9 600.3,622.6 606.1,625.3 611.9,628.0 617.8,630.5 623.4,632.7 628.4,634.3 633.0,635.4 637.8,636.6 643.6,638.4 650.9,641.2 659.3,644.6 667.8,648.1 675.4,651.4 681.8,654.5 687.5,657.5 692.9,660.3 698.5,662.4 704.3,663.6 710.0,664.2 715.8,664.6 721.6,665.3 727.4,666.3 733.3,667.5 739.1,668.8 744.7,670.2 750.1,671.7 755.3,673.3 760.3,675.0 764.9,676.9 768.9,679.1 772.3,681.5 775.7,683.9 779.4,686.1 783.3,687.9 787.3,689.5 791.7,691.0 796.7,692.5 802.7,694.3 809.5,696.1 816.4,697.8 822.7,699.1 828.2,699.8 833.3,700.0 838.2,700.1 842.9,700.5 847.5,701.2 851.9,702.0 856.1,703.0 860.2,704.3 863.9,705.8 867.3,707.6 870.7,709.7 874.7,712.1 879.4,715.1 884.6,718.5 889.9,721.9 894.9,725.1 899.4,728.0 903.7,730.7 907.9,733.2 912.2,735.2 916.5,736.9 920.9,738.2 925.3,739.1 929.6,739.5 933.9,739.4 938.1,738.8 942.4,737.8 946.9,736.6 951.9,734.9 957.2,732.8 962.5,730.6 967.1,728.8 970.9,727.5 974.2,726.4 977.2,725.4 980.5,724.2 984.0,722.7 987.6,721.0 991.3,719.3 994.9,717.9 998.5,716.8 1002.0,715.8 1005.6,715.1 1009.4,714.4 1013.4,713.9 1017.5,713.6 1021.9,713.3 1026.7,713.0 1032.1,712.7 1037.9,712.3 1043.9,711.9 1049.8,711.5 1055.8,711.0 1062.1,710.4 1067.9,709.8 1072.9,709.2 1076.6,708.5 1079.4,707.8 1081.9,707.1 1084.5,706.3 1087.4,705.4 1090.3,704.5 1093.1,703.6 1096.0,702.9 1098.8,702.3 1101.6,701.7 1104.5,701.4 1107.6,701.4 1111.0,701.9 1114.6,702.7 1118.3,703.8 1122.0,704.9 1125.6,706.2 1129.2,707.6 1132.9,709.1 1136.5,710.6 1140.1,712.1 1143.7,713.7 1147.3,715.2 1150.9,716.4 1154.5,717.3 1158.0,718.1 1161.6,718.6 1165.4,718.7 1169.5,718.4 1173.9,717.7 1178.3,716.8 1182.7,715.6 1187.0,714.1 1191.2,712.4 1195.5,710.5 1200.0,708.6 1204.8,706.8 1209.9,704.9 1215.1,703.1 1220.2,701.4 1225.1,699.8 1229.8,698.3 1234.8,696.9 1240.5,695.6 1247.1,694.5 1254.4,693.7 1262.0,692.8 1269.4,691.9 1276.6,690.8 1283.8,689.7 1291.0,688.6 1298.2,687.5 1305.7,686.5 1313.4,685.7 1320.7,684.6 1327.1,683.2 1332.3,681.3 1336.7,679.0 1340.6,676.5 1344.5,674.0 1348.2,671.4 1351.5,668.6 1355.0,665.7 1358.9,663.0 1363.7,660.3 1369.0,657.7 1374.3,655.2 1379.1,652.9 1383.2,650.9 1386.8,649.0 1390.2,647.5 1393.5,646.2 1396.5,645.4 1399.3,644.9 1402.1,644.5 1405.1,644.2 1408.7,643.8 1412.6,643.4 1416.2,643.0 1418.7,642.8" fill="none" stroke="#ff0000" stroke-width="1" stroke-dasharray="3,3" shape-rendering="crispEdges"/>
</g>
<text x="0" y="597" font-size="10" fill="#000" textLength="146" lengthAdjust="spacingAndGlyphs" >MACD(12,26,9) 0.007590 0.007989</text>
<rect x="1685" y="586" width="1" height="1" fill="#000" shape-rendering="crispEdges"/>
<rect x="1685" y="710" width="1" height="1" fill="#000" shape-rendering="crispEdges"/>
<rect x="1685" y="753" width="1" height="1" fill="#000" shape-rendering="crispEdges"/>
<text x="1688" y="595" font-size="10" fill="#000" textLength="38" lengthAdjust="spacingAndGlyphs" >0.014706</text>
<text x="1688" y="714" font-size="10" fill="#000" textLength="18" lengthAdjust="spacingAndGlyphs" >0.00</text>
<text x="1688" y="751" font-size="10" fill="#000" textLength="41" lengthAdjust="spacingAndGlyphs" >-0.005113</text>
<g shape-rendering="crispEdges">
<line x1="0" y1="792.5" x2="1684" y2="792.5" stroke="#c0c0c0" stroke-width="1" stroke-dasharray="3,3"/>
<line x1="0" y1="843.5" x2="1684" y2="843.5" stroke="#c0c0c0" stroke-width="1" stroke-dasharray="3,3"/>
<line x1="0" y1="904.5" x2="1684" y2="904.5" stroke="#c0c0c0" stroke-width="1" stroke-dasharray="3,3"/>
<rect x="1685" y="758" width="1" height="1" fill="#000"/>
<rect x="1685" y="928" width="1" height="1" fill="#000"/>
</g>
<g clip-path="url(#rsiclip)">
<polyline points="-5.5,822.0 2.5,827.8 10.5,840.2 18.5,838.5 26.5,839.3 34.5,826.3 42.5,822.0 50.5,813.3 58.5,811.0 66.5,809.6 74.5,808.4 82.5,802.6 90.5,797.4 98.5,790.8 106.5,800.3 114.5,799.5 122.5,802.3 130.5,799.8 138.5,796.6 146.5,817.7 154.5,826.9 162.5,824.0 170.5,815.6 178.5,827.8 186.5,832.7 194.5,837.9 202.5,841.3 210.5,842.8 218.5,828.1 226.5,824.3 234.5,835.0 242.5,840.2 250.5,839.6 258.5,839.3 266.5,836.4 274.5,838.5 282.5,835.6 290.5,838.5 298.5,837.3 306.5,836.4 314.5,824.9 322.5,833.0 330.5,823.4 338.5,834.1 346.5,832.1 354.5,831.2 362.5,824.9 370.5,816.2 378.5,815.3 386.5,822.3 394.5,815.3 402.5,815.3 410.5,813.3 418.5,803.2 426.5,800.3 434.5,797.4 442.5,794.0 450.5,793.1 458.5,785.3 466.5,798.0 474.5,793.7 482.5,789.6 490.5,805.5 498.5,807.5 506.5,811.9 514.5,806.7 522.5,803.2 530.5,802.3 538.5,821.1 546.5,821.1 554.5,829.2 562.5,830.7 570.5,822.0 578.5,820.0 586.5,817.1 594.5,815.3 602.5,813.3 610.5,805.5 618.5,827.2 626.5,824.3 634.5,837.9 642.5,836.4 650.5,837.3 658.5,831.5 666.5,830.7 674.5,834.4 682.5,824.9 690.5,821.4 698.5,818.2 706.5,821.4 714.5,837.0 722.5,838.5 730.5,836.4 738.5,840.2 746.5,843.1 754.5,853.2 762.5,845.1 770.5,841.3 778.5,840.8 786.5,838.7 794.5,833.5 802.5,839.3 810.5,847.4 818.5,838.7 826.5,837.3 834.5,839.3 842.5,856.7 850.5,865.3 858.5,872.0 866.5,868.2 874.5,874.0 882.5,871.7 890.5,861.0 898.5,847.4 906.5,850.3 914.5,846.5 922.5,851.7 930.5,850.0 938.5,837.3 946.5,847.1 954.5,841.3 962.5,841.3 970.5,831.5 978.5,833.5 986.5,834.4 994.5,848.0 1002.5,848.3 1010.5,855.2 1018.5,852.3 1026.5,853.2 1034.5,842.2 1042.5,829.8 1050.5,826.3 1058.5,834.1 1066.5,827.2 1074.5,829.2 1082.5,837.9 1090.5,843.7 1098.5,849.4 1106.5,862.4 1114.5,867.3 1122.5,867.3 1130.5,867.3 1138.5,841.3 1146.5,846.0 1154.5,833.5 1162.5,824.9 1170.5,823.4 1178.5,835.9 1186.5,837.9 1194.5,843.1 1202.5,839.3 1210.5,835.0 1218.5,833.5 1226.5,830.7 1234.5,830.7 1242.5,834.4 1250.5,830.7 1258.5,832.7 1266.5,831.5 1274.5,837.3 1282.5,826.3 1290.5,823.4 1298.5,824.3 1306.5,816.2 1314.5,814.2 1322.5,824.0 1330.5,806.1 1338.5,802.3 1346.5,799.5 1354.5,801.8 1362.5,806.7 1370.5,809.6 1378.5,809.6 1386.5,819.1 1394.5,809.6 1402.5,818.2 1410.5,815.6 1418.5,814.2" fill="none" stroke="#1e90ff" stroke-width="1" shape-rendering="crispEdges"/>
</g>
<text x="0" y="769" font-size="10" fill="#000" textLength="66" lengthAdjust="spacingAndGlyphs" >RSI(14) 67.4249</text>
<text x="1688.5" y="767" font-size="10" fill="#000" textLength="14" lengthAdjust="spacingAndGlyphs" >100</text>
<text x="1687.5" y="796" font-size="10" fill="#000" textLength="9" lengthAdjust="spacingAndGlyphs" >80</text>
<text x="1687.5" y="847" font-size="10" fill="#000" textLength="9" lengthAdjust="spacingAndGlyphs" >50</text>
<text x="1687.5" y="908" font-size="10" fill="#000" textLength="9" lengthAdjust="spacingAndGlyphs" >15</text>
<text x="1688.5" y="927" font-size="10" fill="#000" textLength="5" lengthAdjust="spacingAndGlyphs" >0</text>
<g shape-rendering="crispEdges">
<rect x="58" y="931" width="1" height="3" fill="#000"/>
<rect x="122" y="931" width="1" height="3" fill="#000"/>
<rect x="186" y="931" width="1" height="3" fill="#000"/>
<rect x="250" y="931" width="1" height="3" fill="#000"/>
<rect x="314" y="931" width="1" height="3" fill="#000"/>
<rect x="378" y="931" width="1" height="3" fill="#000"/>
<rect x="442" y="931" width="1" height="3" fill="#000"/>
<rect x="506" y="931" width="1" height="3" fill="#000"/>
<rect x="570" y="931" width="1" height="3" fill="#000"/>
<rect x="634" y="931" width="1" height="3" fill="#000"/>
<rect x="698" y="931" width="1" height="3" fill="#000"/>
<rect x="762" y="931" width="1" height="3" fill="#000"/>
<rect x="826" y="931" width="1" height="3" fill="#000"/>
<rect x="890" y="931" width="1" height="3" fill="#000"/>
<rect x="954" y="931" width="1" height="3" fill="#000"/>
<rect x="1018" y="931" width="1" height="3" fill="#000"/>
<rect x="1082" y="931" width="1" height="3" fill="#000"/>
<rect x="1146" y="931" width="1" height="3" fill="#000"/>
<rect x="1210" y="931" width="1" height="3" fill="#000"/>
<rect x="1274" y="931" width="1" height="3" fill="#000"/>
<rect x="1338" y="931" width="1" height="3" fill="#000"/>
<rect x="1402" y="931" width="1" height="3" fill="#000"/>
</g>
<text x="-7" y="943" font-size="10" fill="#000" letter-spacing="-0.25">20 May 2020</text>
<text x="57" y="943" font-size="10" fill="#000" letter-spacing="-0.25">29 May 2020</text>
<text x="121" y="943" font-size="10" fill="#000" letter-spacing="-0.25">8 Jun 2020</text>
<text x="185" y="943" font-size="10" fill="#000" letter-spacing="-0.25">17 Jun 2020</text>
<text x="249" y="943" font-size="10" fill="#000" letter-spacing="-0.25">26 Jun 2020</text>
<text x="313" y="943" font-size="10" fill="#000" letter-spacing="-0.25">6 Jul 2020</text>
<text x="377" y="943" font-size="10" fill="#000" letter-spacing="-0.25">15 Jul 2020</text>
<text x="441" y="943" font-size="10" fill="#000" letter-spacing="-0.25">24 Jul 2020</text>
<text x="505" y="943" font-size="10" fill="#000" letter-spacing="-0.25">3 Aug 2020</text>
<text x="569" y="943" font-size="10" fill="#000" letter-spacing="-0.25">12 Aug 2020</text>
<text x="633" y="943" font-size="10" fill="#000" letter-spacing="-0.25">21 Aug 2020</text>
<text x="697" y="943" font-size="10" fill="#000" letter-spacing="-0.25">31 Aug 2020</text>
<text x="761" y="943" font-size="10" fill="#000" letter-spacing="-0.25">9 Sep 2020</text>
<text x="825" y="943" font-size="10" fill="#000" letter-spacing="-0.25">18 Sep 2020</text>
<text x="889" y="943" font-size="10" fill="#000" letter-spacing="-0.25">28 Sep 2020</text>
<text x="953" y="943" font-size="10" fill="#000" letter-spacing="-0.25">7 Oct 2020</text>
<text x="1017" y="943" font-size="10" fill="#000" letter-spacing="-0.25">16 Oct 2020</text>
<text x="1081" y="943" font-size="10" fill="#000" letter-spacing="-0.25">26 Oct 2020</text>
<text x="1145" y="943" font-size="10" fill="#000" letter-spacing="-0.25">4 Nov 2020</text>
<text x="1209" y="943" font-size="10" fill="#000" letter-spacing="-0.25">13 Nov 2020</text>
<text x="1273" y="943" font-size="10" fill="#000" letter-spacing="-0.25">23 Nov 2020</text>
<text x="1337" y="943" font-size="10" fill="#000" letter-spacing="-0.25">2 Dec 2020</text>
<text x="1401" y="943" font-size="10" fill="#000" letter-spacing="-0.25">11 Dec 2020</text>
<defs>
<linearGradient id="gsell" x1="0" y1="0" x2="0" y2="1"><stop offset="0" stop-color="#ff5858"/><stop offset="1" stop-color="#e43030"/></linearGradient>
<linearGradient id="gprice" x1="0" y1="0" x2="0" y2="1"><stop offset="0" stop-color="#de2a2a"/><stop offset="1" stop-color="#ae0000"/></linearGradient>
<linearGradient id="gbtn" x1="0" y1="0" x2="0" y2="1"><stop offset="0" stop-color="#f2f2f2"/><stop offset="0.45" stop-color="#e6e6e6"/><stop offset="0.5" stop-color="#d6d6d6"/><stop offset="1" stop-color="#cfcfcf"/></linearGradient>
</defs>
<g shape-rendering="crispEdges">
<rect x="0" y="47" width="219" height="68" fill="#fff"/>
<rect x="0" y="73" width="106" height="41" fill="#c40000"/>
<rect x="0" y="74" width="105" height="39" fill="url(#gprice)"/>
<rect x="108" y="73" width="108" height="41" fill="#c40000"/>
<rect x="109" y="74" width="106" height="39" fill="url(#gprice)"/>
<rect x="0" y="49" width="49" height="25" fill="#c40000"/>
<rect x="0" y="50" width="48" height="24" fill="url(#gsell)"/>
<rect x="1" y="72" width="44" height="1" fill="#800000"/>
<rect x="1" y="73" width="44" height="1" fill="#ff6464"/>
<rect x="164" y="49" width="52" height="25" fill="#c40000"/>
<rect x="165" y="50" width="50" height="24" fill="url(#gsell)"/>
<rect x="168" y="72" width="44" height="1" fill="#800000"/>
<rect x="168" y="73" width="44" height="1" fill="#ff6464"/>
<rect x="51" y="49" width="111" height="22" fill="#a9acb0"/>
<rect x="52" y="50" width="109" height="20" fill="#fff"/>
<rect x="52" y="50" width="20" height="20" fill="url(#gbtn)"/>
<rect x="72" y="50" width="1" height="20" fill="#a9acb0"/>
<rect x="140" y="50" width="1" height="20" fill="#a9acb0"/>
<rect x="141" y="50" width="20" height="20" fill="url(#gbtn)"/>
</g>
<polygon points="59,58 64,58 61.5,61" fill="#4a5fc8"/>
<polygon points="148,61.5 153,61.5 150.5,58.5" fill="#4a5fc8"/>
<text x="9" y="64.8" font-size="12.5" fill="#fff" textLength="26" lengthAdjust="spacingAndGlyphs" >SELL</text>
<text x="177.5" y="64.8" font-size="12.5" fill="#fff" textLength="23" lengthAdjust="spacingAndGlyphs" >BUY</text>
<text x="113.5" y="64" font-size="12.5" fill="#000" textLength="23" lengthAdjust="spacingAndGlyphs" >1.00</text>
<text x="17.5" y="103.6" font-size="12.5" fill="#fff" font-weight="bold" textLength="23" lengthAdjust="spacingAndGlyphs" >1.21</text>
<text x="127.5" y="103.6" font-size="12.5" fill="#fff" font-weight="bold" textLength="23" lengthAdjust="spacingAndGlyphs" >1.21</text>
<text x="43.5" y="103.4" font-size="35.5" fill="#fff" textLength="35" lengthAdjust="spacingAndGlyphs" >42</text>
<text x="154.5" y="103.4" font-size="35.5" fill="#fff" textLength="35" lengthAdjust="spacingAndGlyphs" >45</text>
<text x="84.5" y="87.6" font-size="11.5" fill="#fff" font-weight="bold" textLength="6" lengthAdjust="spacingAndGlyphs" >5</text>
<text x="194.5" y="87.6" font-size="11.5" fill="#fff" font-weight="bold" textLength="7" lengthAdjust="spacingAndGlyphs" >0</text>
<polygon points="1425,30 1434,30 1429.5,35" fill="#c0c0c0"/>
<g fill="none" stroke="#00ff00" stroke-width="1.05" stroke-linecap="square" stroke-linejoin="miter"><polyline points="1494.80,66.45 1487.30,72.15"/><polyline points="1492.10,69.30 1500.20,69.00 1487.90,78.15"/><polyline points="1490.60,72.15 1493.90,73.80"/><polyline points="1497.50,75.60 1487.00,82.20"/><polyline points="1493.90,77.40 1501.40,77.10 1487.30,84.60"/><polyline points="1492.10,80.70 1495.10,82.50"/><polyline points="1515.30,66.30 1516.50,67.65"/><polyline points="1508.40,71.10 1508.85,69.00 1522.50,69.00 1522.05,70.80"/><polyline points="1512.90,71.40 1508.10,75.60"/><polyline points="1517.70,71.40 1522.50,74.70"/><polyline points="1510.50,76.65 1520.40,76.65"/><polyline points="1515.60,76.65 1515.60,83.40"/><polyline points="1507.80,83.40 1523.40,83.40"/><polyline points="1528.60,69.30 1535.80,69.30"/><polyline points="1532.20,66.60 1529.50,78.00 1535.50,77.40"/><polyline points="1532.80,73.20 1532.80,84.00"/><polyline points="1528.30,81.00 1535.80,79.20"/><polyline points="1537.60,69.90 1544.80,69.90"/><polyline points="1537.00,74.10 1545.70,74.10"/><polyline points="1541.80,66.60 1539.40,78.30 1544.50,78.30 1540.60,82.50"/><polyline points="1540.00,81.30 1543.00,83.70"/><polyline points="1549.40,72.00 1556.30,72.00"/><polyline points="1553.00,66.60 1553.00,83.10 1551.50,82.50"/><polyline points="1549.40,79.20 1556.30,75.90"/><polyline points="1565.30,67.20 1559.00,69.30"/><polyline points="1559.00,69.30 1559.00,77.70 1557.50,83.70"/><polyline points="1559.00,74.40 1566.50,74.40"/><polyline points="1563.20,74.40 1563.20,84.00"/><polyline points="1578.30,66.30 1578.30,73.20"/><polyline points="1578.30,69.60 1584.90,69.60"/><polyline points="1573.20,73.20 1584.60,73.20 1584.60,78.90 1573.20,78.90 1573.20,73.20"/><polyline points="1572.30,80.70 1570.80,83.70"/><polyline points="1576.20,81.00 1577.10,83.70"/><polyline points="1580.10,81.00 1581.30,83.70"/><polyline points="1584.30,80.70 1586.70,83.40"/></g>
<g fill="none" stroke="#000" stroke-width="1.05" stroke-linecap="square" stroke-linejoin="miter"><polyline points="76.70,5.99 77.20,6.97"/><polyline points="74.50,7.66 79.60,7.66"/><polyline points="75.50,8.44 76.00,9.62"/><polyline points="78.40,8.44 77.80,9.62"/><polyline points="74.30,10.21 79.80,10.21"/><polyline points="74.50,12.17 79.50,12.17"/><polyline points="77.00,10.21 77.00,16.77 76.30,16.48"/><polyline points="76.80,13.54 74.40,15.99"/><polyline points="77.40,14.03 79.30,15.50"/><polyline points="85.20,6.09 81.30,7.46"/><polyline points="81.30,7.46 81.30,13.05 80.30,16.68"/><polyline points="81.30,10.80 85.70,10.80"/><polyline points="83.70,10.80 83.70,17.07"/><polyline points="86.90,6.19 87.90,7.46"/><polyline points="86.40,9.62 87.70,9.62 87.70,15.50 89.10,14.13"/><polyline points="90.10,6.97 97.70,6.97"/><polyline points="94.70,6.97 94.70,16.68 92.90,16.09"/><polyline points="101.20,5.90 102.20,7.27"/><polyline points="107.20,5.90 106.20,7.27"/><polyline points="100.00,8.25 108.40,8.25 108.40,13.15 100.00,13.15 100.00,8.25"/><polyline points="100.00,10.70 108.40,10.70"/><polyline points="104.20,8.25 104.20,17.26"/><polyline points="98.40,14.91 110.00,14.91"/></g><g fill="none" stroke="#000" stroke-width="1.05" stroke-linecap="square" stroke-linejoin="miter"><polyline points="232.30,5.70 231.20,7.27"/><polyline points="228.20,7.46 235.80,7.46 235.80,17.07"/><polyline points="228.20,7.46 228.20,17.07"/><polyline points="228.20,10.40 235.80,10.40"/><polyline points="228.20,13.34 235.80,13.34"/><polyline points="228.20,16.48 235.80,16.48"/><polyline points="238.90,7.27 243.10,7.27"/><polyline points="238.30,10.01 243.70,10.01"/><polyline points="240.90,10.01 238.80,15.11 243.30,14.32"/><polyline points="242.10,12.76 243.70,15.50"/><polyline points="244.60,9.23 249.60,9.23 249.20,16.87 248.00,16.38"/><polyline points="247.10,6.09 246.70,12.56 244.50,17.07"/><polyline points="256.00,5.70 256.80,7.07"/><polyline points="250.60,8.25 261.80,8.25"/><polyline points="254.40,9.23 252.40,11.58"/><polyline points="258.00,9.23 260.20,11.38"/><polyline points="253.80,11.58 261.40,17.07"/><polyline points="258.80,11.58 251.00,17.07"/><polyline points="264.90,6.09 271.70,6.09 271.70,10.60 264.90,10.60 264.90,6.09"/><polyline points="264.90,8.35 271.70,8.35"/><polyline points="265.90,10.99 263.30,13.54"/><polyline points="264.90,12.56 273.30,12.56 272.90,17.07 271.70,16.68"/><polyline points="267.70,12.95 264.90,16.68"/><polyline points="270.30,12.95 267.50,17.07"/></g>
</svg></body></html>
